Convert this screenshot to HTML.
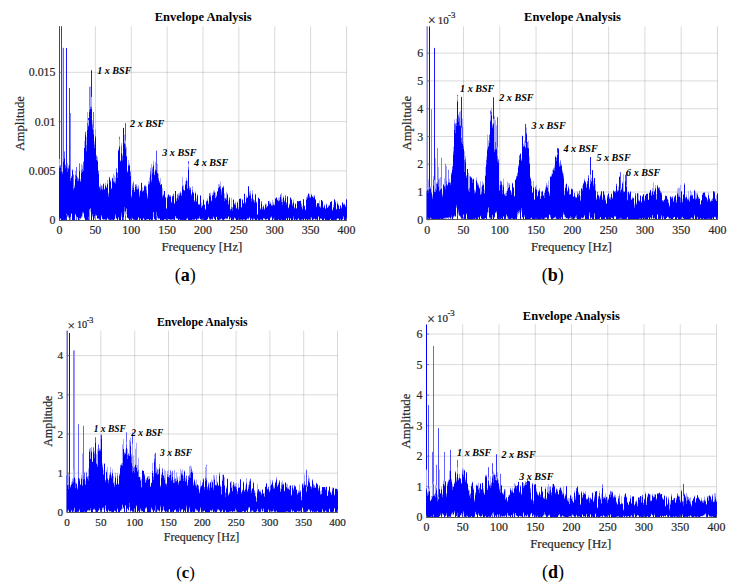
<!DOCTYPE html>
<html><head><meta charset="utf-8"><style>
html,body{margin:0;padding:0;background:#fff;}
svg{display:block;}
text{font-family:"Liberation Serif", serif;}
</style></head><body>
<svg width="737" height="588" viewBox="0 0 737 588">
<line x1="59.50" y1="26.25" x2="59.50" y2="220.20" stroke="#5a5a5a" stroke-width="0.7"/>
<line x1="95.38" y1="26.25" x2="95.38" y2="220.20" stroke="rgba(0,0,0,0.15)" stroke-width="1"/>
<line x1="131.25" y1="26.25" x2="131.25" y2="220.20" stroke="rgba(0,0,0,0.15)" stroke-width="1"/>
<line x1="167.12" y1="26.25" x2="167.12" y2="220.20" stroke="rgba(0,0,0,0.15)" stroke-width="1"/>
<line x1="203.00" y1="26.25" x2="203.00" y2="220.20" stroke="rgba(0,0,0,0.15)" stroke-width="1"/>
<line x1="238.88" y1="26.25" x2="238.88" y2="220.20" stroke="rgba(0,0,0,0.15)" stroke-width="1"/>
<line x1="274.75" y1="26.25" x2="274.75" y2="220.20" stroke="rgba(0,0,0,0.15)" stroke-width="1"/>
<line x1="310.62" y1="26.25" x2="310.62" y2="220.20" stroke="rgba(0,0,0,0.15)" stroke-width="1"/>
<line x1="346.50" y1="26.25" x2="346.50" y2="220.20" stroke="rgba(0,0,0,0.15)" stroke-width="1"/>
<line x1="59.50" y1="170.90" x2="346.50" y2="170.90" stroke="rgba(0,0,0,0.15)" stroke-width="1"/>
<line x1="59.50" y1="121.60" x2="346.50" y2="121.60" stroke="rgba(0,0,0,0.15)" stroke-width="1"/>
<line x1="59.50" y1="72.30" x2="346.50" y2="72.30" stroke="rgba(0,0,0,0.15)" stroke-width="1"/>
<line x1="427.20" y1="26.25" x2="427.20" y2="219.80" stroke="#5a5a5a" stroke-width="0.7"/>
<line x1="463.49" y1="26.25" x2="463.49" y2="219.80" stroke="rgba(0,0,0,0.15)" stroke-width="1"/>
<line x1="499.77" y1="26.25" x2="499.77" y2="219.80" stroke="rgba(0,0,0,0.15)" stroke-width="1"/>
<line x1="536.06" y1="26.25" x2="536.06" y2="219.80" stroke="rgba(0,0,0,0.15)" stroke-width="1"/>
<line x1="572.35" y1="26.25" x2="572.35" y2="219.80" stroke="rgba(0,0,0,0.15)" stroke-width="1"/>
<line x1="608.64" y1="26.25" x2="608.64" y2="219.80" stroke="rgba(0,0,0,0.15)" stroke-width="1"/>
<line x1="644.92" y1="26.25" x2="644.92" y2="219.80" stroke="rgba(0,0,0,0.15)" stroke-width="1"/>
<line x1="681.21" y1="26.25" x2="681.21" y2="219.80" stroke="rgba(0,0,0,0.15)" stroke-width="1"/>
<line x1="717.50" y1="26.25" x2="717.50" y2="219.80" stroke="rgba(0,0,0,0.15)" stroke-width="1"/>
<line x1="427.20" y1="192.03" x2="717.50" y2="192.03" stroke="rgba(0,0,0,0.15)" stroke-width="1"/>
<line x1="427.20" y1="164.26" x2="717.50" y2="164.26" stroke="rgba(0,0,0,0.15)" stroke-width="1"/>
<line x1="427.20" y1="136.49" x2="717.50" y2="136.49" stroke="rgba(0,0,0,0.15)" stroke-width="1"/>
<line x1="427.20" y1="108.72" x2="717.50" y2="108.72" stroke="rgba(0,0,0,0.15)" stroke-width="1"/>
<line x1="427.20" y1="80.95" x2="717.50" y2="80.95" stroke="rgba(0,0,0,0.15)" stroke-width="1"/>
<line x1="427.20" y1="53.18" x2="717.50" y2="53.18" stroke="rgba(0,0,0,0.15)" stroke-width="1"/>
<line x1="67.10" y1="330.60" x2="67.10" y2="512.40" stroke="#5a5a5a" stroke-width="0.7"/>
<line x1="100.90" y1="330.60" x2="100.90" y2="512.40" stroke="rgba(0,0,0,0.15)" stroke-width="1"/>
<line x1="134.70" y1="330.60" x2="134.70" y2="512.40" stroke="rgba(0,0,0,0.15)" stroke-width="1"/>
<line x1="168.50" y1="330.60" x2="168.50" y2="512.40" stroke="rgba(0,0,0,0.15)" stroke-width="1"/>
<line x1="202.30" y1="330.60" x2="202.30" y2="512.40" stroke="rgba(0,0,0,0.15)" stroke-width="1"/>
<line x1="236.10" y1="330.60" x2="236.10" y2="512.40" stroke="rgba(0,0,0,0.15)" stroke-width="1"/>
<line x1="269.90" y1="330.60" x2="269.90" y2="512.40" stroke="rgba(0,0,0,0.15)" stroke-width="1"/>
<line x1="303.70" y1="330.60" x2="303.70" y2="512.40" stroke="rgba(0,0,0,0.15)" stroke-width="1"/>
<line x1="337.50" y1="330.60" x2="337.50" y2="512.40" stroke="rgba(0,0,0,0.15)" stroke-width="1"/>
<line x1="67.10" y1="473.20" x2="337.50" y2="473.20" stroke="rgba(0,0,0,0.15)" stroke-width="1"/>
<line x1="67.10" y1="434.00" x2="337.50" y2="434.00" stroke="rgba(0,0,0,0.15)" stroke-width="1"/>
<line x1="67.10" y1="394.80" x2="337.50" y2="394.80" stroke="rgba(0,0,0,0.15)" stroke-width="1"/>
<line x1="67.10" y1="355.60" x2="337.50" y2="355.60" stroke="rgba(0,0,0,0.15)" stroke-width="1"/>
<line x1="426.50" y1="324.40" x2="426.50" y2="517.25" stroke="#5a5a5a" stroke-width="0.7"/>
<line x1="462.75" y1="324.40" x2="462.75" y2="517.25" stroke="rgba(0,0,0,0.15)" stroke-width="1"/>
<line x1="499.00" y1="324.40" x2="499.00" y2="517.25" stroke="rgba(0,0,0,0.15)" stroke-width="1"/>
<line x1="535.25" y1="324.40" x2="535.25" y2="517.25" stroke="rgba(0,0,0,0.15)" stroke-width="1"/>
<line x1="571.50" y1="324.40" x2="571.50" y2="517.25" stroke="rgba(0,0,0,0.15)" stroke-width="1"/>
<line x1="607.75" y1="324.40" x2="607.75" y2="517.25" stroke="rgba(0,0,0,0.15)" stroke-width="1"/>
<line x1="644.00" y1="324.40" x2="644.00" y2="517.25" stroke="rgba(0,0,0,0.15)" stroke-width="1"/>
<line x1="680.25" y1="324.40" x2="680.25" y2="517.25" stroke="rgba(0,0,0,0.15)" stroke-width="1"/>
<line x1="716.50" y1="324.40" x2="716.50" y2="517.25" stroke="rgba(0,0,0,0.15)" stroke-width="1"/>
<line x1="426.50" y1="486.72" x2="716.50" y2="486.72" stroke="rgba(0,0,0,0.15)" stroke-width="1"/>
<line x1="426.50" y1="456.19" x2="716.50" y2="456.19" stroke="rgba(0,0,0,0.15)" stroke-width="1"/>
<line x1="426.50" y1="425.66" x2="716.50" y2="425.66" stroke="rgba(0,0,0,0.15)" stroke-width="1"/>
<line x1="426.50" y1="395.13" x2="716.50" y2="395.13" stroke="rgba(0,0,0,0.15)" stroke-width="1"/>
<line x1="426.50" y1="364.60" x2="716.50" y2="364.60" stroke="rgba(0,0,0,0.15)" stroke-width="1"/>
<line x1="426.50" y1="334.07" x2="716.50" y2="334.07" stroke="rgba(0,0,0,0.15)" stroke-width="1"/>
<clipPath id="clipa"><rect x="59.00" y="26.25" width="288.00" height="193.95"/></clipPath>
<g clip-path="url(#clipa)">
<line x1="59.5" y1="220.2" x2="59.5" y2="26.0" stroke="#3333ff" stroke-width="1"/>
<line x1="61.5" y1="220.2" x2="61.5" y2="26.0" stroke="#3333ff" stroke-width="1"/>
<line x1="62.5" y1="220.2" x2="62.5" y2="48.0" stroke="#ccccff" stroke-width="1"/>
<line x1="63.5" y1="220.2" x2="63.5" y2="47.8" stroke="#6666ff" stroke-width="1"/>
<line x1="66.5" y1="220.2" x2="66.5" y2="48.0" stroke="#1919ff" stroke-width="1"/>
<line x1="64.5" y1="220.2" x2="64.5" y2="151.4" stroke="#6666ff" stroke-width="1"/>
<line x1="70.5" y1="220.2" x2="70.5" y2="155.6" stroke="#6666ff" stroke-width="1"/>
<line x1="73.5" y1="220.2" x2="73.5" y2="174.6" stroke="#6666ff" stroke-width="1"/>
<line x1="76.5" y1="220.2" x2="76.5" y2="167.0" stroke="#6666ff" stroke-width="1"/>
<line x1="79.5" y1="220.2" x2="79.5" y2="163.3" stroke="#6666ff" stroke-width="1"/>
<line x1="69.5" y1="220.2" x2="69.5" y2="88.0" stroke="#3333ff" stroke-width="1"/>
<line x1="70.5" y1="220.2" x2="70.5" y2="113.0" stroke="#8080ff" stroke-width="1"/>
<line x1="89.5" y1="220.2" x2="89.5" y2="87.0" stroke="#8080ff" stroke-width="1"/>
<line x1="91.5" y1="220.2" x2="91.5" y2="70.2" stroke="#1919ff" stroke-width="1"/>
<line x1="93.5" y1="220.2" x2="93.5" y2="112.0" stroke="#6666ff" stroke-width="1"/>
<line x1="88.5" y1="220.2" x2="88.5" y2="118.0" stroke="#1919ff" stroke-width="1"/>
<line x1="125.5" y1="220.2" x2="125.5" y2="123.0" stroke="#4d4dff" stroke-width="1"/>
<line x1="119.5" y1="220.2" x2="119.5" y2="136.7" stroke="#6666ff" stroke-width="1"/>
<line x1="123.5" y1="220.2" x2="123.5" y2="135.7" stroke="#4d4dff" stroke-width="1"/>
<line x1="156.5" y1="220.2" x2="156.5" y2="150.7" stroke="#4d4dff" stroke-width="1"/>
<line x1="188.5" y1="220.2" x2="188.5" y2="161.3" stroke="#3333ff" stroke-width="1"/>
<path d="M59.5 166.1V159.0M60.5 219.1V218.9M60.5 165.4V164.9M61.5 220.2V220.2M61.5 167.5V166.9M62.5 172.0V171.3M63.5 220.0V219.9M64.5 220.2V220.1M65.5 220.0V219.9M65.5 165.1V164.3M66.5 215.1V214.2M66.5 165.7V165.4M67.5 217.0V216.1M67.5 167.8V163.1M68.5 217.9V216.9M68.5 167.5V165.2M69.5 219.2V219.0M69.5 164.6V164.5M70.5 217.6V217.2M70.5 178.3V176.4M71.5 214.0V213.7M71.5 176.3V176.1M73.5 220.2V220.2M73.5 187.8V186.8M74.5 220.2V220.1M74.5 186.8V185.1M75.5 215.2V214.6M75.5 174.9V171.0M76.5 218.1V217.3M76.5 173.7V173.2M77.5 218.6V217.2M77.5 177.5V176.7M78.5 178.7V178.4M79.5 219.1V218.2M80.5 219.2V218.8M80.5 180.9V179.0M81.5 218.0V217.2M81.5 170.2V164.0M82.5 216.7V213.9M82.5 168.6V165.3M83.5 214.0V212.9M83.5 161.9V161.5M84.5 218.7V217.8M84.5 147.8V140.9M85.5 132.0V131.5M86.5 145.2V136.8M87.5 220.0V220.0M87.5 122.6V111.9M88.5 218.3V218.0M88.5 125.7V119.9M89.5 211.5V210.2M89.5 109.5V107.7M90.5 212.0V208.6M90.5 106.8V86.1M91.5 106.8V96.9M92.5 216.9V215.8M92.5 124.4V120.4M93.5 130.0V127.9M94.5 218.5V218.4M94.5 144.3V141.2M95.5 218.1V216.5M95.5 135.8V129.2M96.5 216.1V215.5M96.5 155.5V155.4M97.5 218.9V218.8M97.5 160.4V156.8M98.5 219.4V218.8M98.5 170.7V170.4M99.5 219.7V219.7M99.5 186.6V185.8M100.5 186.7V183.6M101.5 216.9V216.3M101.5 185.6V185.4M102.5 219.2V218.9M102.5 188.6V185.7M103.5 219.8V219.6M103.5 183.9V183.0M104.5 219.7V219.4M104.5 189.3V188.7M105.5 220.0V219.9M105.5 184.8V182.6M106.5 219.9V219.9M106.5 187.4V186.7M107.5 219.1V218.0M107.5 183.3V179.9M108.5 219.5V219.5M108.5 194.0V192.5M109.5 219.8V219.8M110.5 220.2V220.2M110.5 180.6V179.8M111.5 219.9V219.9M111.5 188.5V187.5M112.5 220.0V219.9M112.5 178.0V177.4M113.5 180.5V173.8M114.5 219.6V219.5M114.5 181.6V175.5M115.5 217.6V215.7M115.5 181.2V177.5M116.5 218.8V218.8M117.5 172.9V172.7M118.5 218.8V217.7M118.5 150.1V149.0M119.5 220.1V219.9M119.5 146.4V139.3M120.5 161.2V160.1M121.5 217.3V215.6M121.5 145.6V142.9M122.5 220.1V220.1M122.5 156.0V154.1M123.5 218.4V217.5M124.5 214.5V211.4M124.5 142.9V134.8M125.5 215.6V211.6M125.5 144.7V140.5M126.5 214.2V209.3M126.5 155.9V147.0M127.5 218.0V217.9M127.5 171.3V170.8M128.5 218.9V218.8M128.5 164.5V160.1M129.5 220.1V220.1M129.5 165.0V163.2M130.5 219.7V219.7M130.5 171.8V171.0M131.5 220.2V220.2M131.5 196.0V195.2M132.5 219.4V219.0M132.5 185.9V183.5M133.5 219.9V219.9M133.5 182.6V180.9M134.5 219.9V219.8M134.5 191.7V190.0M135.5 184.8V184.0M136.5 220.2V220.2M136.5 185.7V184.0M137.5 220.0V219.9M137.5 189.0V186.6M138.5 217.7V217.6M138.5 187.4V185.1M139.5 220.1V220.0M139.5 195.1V192.3M140.5 219.0V219.0M140.5 190.4V190.2M142.5 191.1V187.5M143.5 218.5V218.5M143.5 190.5V190.2M144.5 219.9V219.8M144.5 185.7V185.1M145.5 186.1V184.7M146.5 219.8V219.7M146.5 189.4V186.2M147.5 219.5V219.5M147.5 196.9V194.7M148.5 219.5V219.3M148.5 183.5V181.1M149.5 181.8V177.5M150.5 219.6V219.5M150.5 171.1V167.7M151.5 179.7V163.9M152.5 219.9V219.8M152.5 168.6V167.2M153.5 216.9V212.5M153.5 164.4V160.8M154.5 219.4V219.2M154.5 174.5V172.1M155.5 220.1V220.1M155.5 169.4V162.1M156.5 215.7V214.6M156.5 166.9V166.8M157.5 218.3V217.8M157.5 173.0V163.8M158.5 219.4V218.9M158.5 177.9V173.6M159.5 219.1V218.8M159.5 181.4V181.0M160.5 220.1V220.1M160.5 184.7V178.1M161.5 220.0V219.9M162.5 195.3V188.0M163.5 220.1V220.1M163.5 194.8V193.6M164.5 219.8V219.3M165.5 219.4V219.4M165.5 197.0V196.7M166.5 208.5V207.8M167.5 196.9V195.5M168.5 219.5V219.2M169.5 219.8V219.6M169.5 195.7V195.4M170.5 219.8V219.7M170.5 196.1V195.0M171.5 219.9V219.8M171.5 202.4V201.5M172.5 219.7V219.5M172.5 195.7V195.6M173.5 219.7V219.6M173.5 194.0V193.8M174.5 203.2V202.7M175.5 217.7V216.3M176.5 218.5V218.5M176.5 200.4V198.3M177.5 218.8V218.8M177.5 194.6V193.7M178.5 195.6V193.3M179.5 219.6V219.5M179.5 194.5V192.8M180.5 191.8V191.1M181.5 220.0V220.0M181.5 194.6V192.9M182.5 220.0V220.0M182.5 185.6V176.9M183.5 220.0V219.9M183.5 189.3V184.9M184.5 220.2V220.1M184.5 190.5V190.4M185.5 183.7V181.1M186.5 219.7V219.6M186.5 180.1V177.6M187.5 219.1V218.7M187.5 187.9V180.5M188.5 220.1V220.0M188.5 167.4V163.4M189.5 187.7V186.2M190.5 187.6V187.3M191.5 193.8V193.8M192.5 219.9V219.7M192.5 189.6V186.1M193.5 219.8V219.8M193.5 192.8V191.8M194.5 219.9V219.8M194.5 200.5V200.2M195.5 219.1V218.9M195.5 192.8V191.4M196.5 200.8V198.3M197.5 219.5V218.8M197.5 195.1V194.0M198.5 219.6V219.1M198.5 203.9V203.8M199.5 218.5V218.0M199.5 204.5V203.7M200.5 219.4V219.3M201.5 219.9V219.9M201.5 206.5V202.6M202.5 219.8V219.8M202.5 205.5V205.1M203.5 220.1V220.1M203.5 199.7V199.1M204.5 204.7V204.4M205.5 209.3V208.5M206.5 220.1V220.1M206.5 201.4V200.5M207.5 219.5V219.0M207.5 200.1V198.2M208.5 218.1V217.2M208.5 203.7V201.9M209.5 219.7V219.4M209.5 193.2V193.0M210.5 219.7V219.7M210.5 195.0V192.6M211.5 219.4V219.1M211.5 201.1V199.7M212.5 219.6V219.6M212.5 194.9V193.1M213.5 218.1V217.1M213.5 192.2V190.6M214.5 219.2V218.9M214.5 192.3V190.2M215.5 220.1V220.1M215.5 197.7V192.5M216.5 217.2V217.1M216.5 196.4V194.6M217.5 219.7V219.7M217.5 191.1V190.8M218.5 187.7V184.1M219.5 219.8V219.7M219.5 186.1V184.1M220.5 219.7V219.3M220.5 186.2V181.4M221.5 219.3V218.5M221.5 191.3V189.4M222.5 219.9V219.8M222.5 187.3V187.0M223.5 186.3V185.5M224.5 219.4V219.3M224.5 197.6V193.4M225.5 219.1V218.4M225.5 198.6V197.6M226.5 219.3V219.1M226.5 198.1V191.6M227.5 219.0V218.6M227.5 194.5V193.1M228.5 217.0V216.8M228.5 203.6V200.9M229.5 219.7V219.6M229.5 197.5V197.4M230.5 218.6V218.2M230.5 209.1V209.0M231.5 220.1V220.0M231.5 206.9V197.8M232.5 219.7V219.7M232.5 207.5V207.0M233.5 219.9V219.9M234.5 218.5V217.8M234.5 204.2V203.0M235.5 219.3V218.8M235.5 203.2V201.6M236.5 207.9V207.6M237.5 220.2V220.2M237.5 202.2V201.4M238.5 219.6V219.6M238.5 208.5V206.6M240.5 220.0V219.8M240.5 198.4V198.4M241.5 219.8V219.8M241.5 206.8V206.8M242.5 199.4V199.1M243.5 219.5V219.5M243.5 203.2V203.1M244.5 219.9V219.7M245.5 202.2V202.0M246.5 219.8V219.7M246.5 197.3V195.5M247.5 219.0V218.7M247.5 197.7V196.8M248.5 219.3V219.3M249.5 217.6V217.6M249.5 194.4V191.6M250.5 220.2V220.2M250.5 193.3V190.6M251.5 219.1V218.7M251.5 199.0V197.9M252.5 220.1V220.1M252.5 193.3V190.2M253.5 219.5V219.3M253.5 199.4V198.7M254.5 219.6V218.8M254.5 202.1V199.9M255.5 220.2V220.2M255.5 194.0V193.6M256.5 220.1V220.1M256.5 201.7V201.6M257.5 219.6V218.9M260.5 219.7V219.6M260.5 208.5V208.4M261.5 219.7V219.6M261.5 201.3V201.2M262.5 220.1V220.1M262.5 208.6V207.0M263.5 219.3V218.3M263.5 206.0V205.0M264.5 218.9V218.8M264.5 208.7V208.5M265.5 219.9V219.7M265.5 204.4V203.4M266.5 219.6V219.5M266.5 206.7V204.0M267.5 219.0V218.9M267.5 206.1V206.0M269.5 203.6V200.6M270.5 218.5V218.2M270.5 202.8V201.7M271.5 217.8V217.3M271.5 205.1V204.3M272.5 220.2V220.2M272.5 204.6V199.8M273.5 219.2V219.1M273.5 203.8V201.8M274.5 205.1V203.5M276.5 220.1V220.0M277.5 200.1V199.4M278.5 219.8V219.4M278.5 201.2V197.5M279.5 220.2V220.1M279.5 200.0V197.5M280.5 220.1V220.0M280.5 194.9V194.1M281.5 219.8V219.8M281.5 199.3V192.9M282.5 220.0V220.0M282.5 202.0V198.7M283.5 196.8V195.7M284.5 220.0V220.0M284.5 200.7V200.5M285.5 220.1V220.1M285.5 195.3V194.9M286.5 218.9V218.6M286.5 202.7V202.2M288.5 218.6V217.9M288.5 208.0V206.9M289.5 204.4V203.2M290.5 218.9V218.8M291.5 199.3V198.7M292.5 204.3V203.3M293.5 218.8V218.6M293.5 201.6V199.6M294.5 220.1V220.1M294.5 208.1V206.9M295.5 219.5V219.5M295.5 203.8V203.1M296.5 220.2V220.2M296.5 208.3V207.9M297.5 219.7V219.7M298.5 219.2V218.7M299.5 220.0V219.9M300.5 220.1V220.1M301.5 220.0V219.9M301.5 204.4V203.4M302.5 219.7V219.6M302.5 208.4V206.0M303.5 220.1V220.1M304.5 219.0V218.8M304.5 205.9V205.0M305.5 209.4V209.3M306.5 219.8V219.2M306.5 199.0V196.6M307.5 196.5V195.1M308.5 219.9V219.6M309.5 220.0V219.9M309.5 196.1V194.0M310.5 219.9V219.7M310.5 197.3V197.2M311.5 218.4V217.8M311.5 195.0V193.5M312.5 196.5V196.5M313.5 219.5V219.4M313.5 197.6V196.2M314.5 219.2V218.8M315.5 219.9V219.7M315.5 199.3V199.0M316.5 219.7V219.3M316.5 206.7V204.8M317.5 220.1V220.0M317.5 203.2V203.0M318.5 217.4V216.7M318.5 203.2V203.0M319.5 220.1V220.0M319.5 206.2V200.5M320.5 219.1V219.1M320.5 207.2V206.0M321.5 219.1V218.8M322.5 220.2V220.2M322.5 201.2V200.6M323.5 220.1V220.1M323.5 207.3V207.2M324.5 219.1V219.0M324.5 205.1V204.3M325.5 208.4V208.2M326.5 220.1V220.1M326.5 204.2V203.3M327.5 207.5V207.5M328.5 206.3V205.1M329.5 205.0V204.5M330.5 219.4V219.3M332.5 220.2V220.2M332.5 209.9V209.1M333.5 207.0V204.5M334.5 219.9V219.9M335.5 220.2V220.2M335.5 201.9V200.5M336.5 219.8V219.8M336.5 208.9V208.8M337.5 219.0V218.8M337.5 203.2V201.6M338.5 219.3V218.9M338.5 204.7V204.3M339.5 220.1V220.0M339.5 208.8V208.8M340.5 219.9V219.6M340.5 205.5V204.8M341.5 207.7V206.8M342.5 219.6V219.6M342.5 202.2V202.0M343.5 218.8V217.2M343.5 204.5V203.6M344.5 220.2V220.2M344.5 204.3V203.4M345.5 206.6V204.9M346.5 219.4V219.2" stroke="#aaaaff" stroke-width="1" fill="none"/>
<path d="M59.5 168.3V166.1M60.5 218.9V218.0M60.5 167.4V165.4M61.5 220.2V220.1M61.5 171.6V167.5M62.5 173.9V172.0M63.5 219.9V219.8M63.5 161.8V159.0M64.5 220.1V220.1M65.5 219.9V219.8M65.5 168.2V165.1M66.5 214.2V213.7M66.5 166.6V165.7M67.5 216.1V215.0M67.5 171.5V167.8M68.5 216.9V215.6M68.5 168.9V167.5M69.5 219.0V218.2M69.5 165.1V164.6M70.5 217.2V216.7M70.5 180.9V178.3M71.5 213.7V213.5M71.5 177.7V176.3M72.5 170.6V169.4M73.5 220.2V220.2M73.5 189.7V187.8M74.5 220.1V220.1M74.5 187.5V186.8M75.5 214.6V213.9M75.5 178.9V174.9M76.5 217.3V216.3M76.5 176.2V173.7M77.5 217.2V217.2M77.5 180.9V177.5M78.5 181.0V178.7M79.5 218.2V218.0M79.5 171.3V171.2M80.5 218.8V218.3M80.5 181.7V180.9M81.5 217.2V216.6M81.5 172.8V170.2M82.5 213.9V212.4M82.5 171.5V168.6M83.5 212.9V212.6M83.5 170.5V161.9M84.5 217.8V217.7M84.5 148.0V147.8M85.5 134.8V132.0M86.5 151.2V145.2M87.5 220.0V219.9M87.5 130.1V122.6M88.5 218.0V216.6M88.5 126.8V125.7M89.5 210.2V209.3M89.5 112.1V109.5M90.5 208.6V208.5M90.5 108.9V106.8M91.5 109.2V106.8M92.5 215.8V214.4M92.5 128.3V124.4M93.5 134.4V130.0M94.5 218.4V216.2M94.5 147.8V144.3M95.5 216.5V214.6M95.5 137.3V135.8M96.5 215.5V215.3M96.5 159.7V155.5M97.5 218.8V218.4M97.5 161.2V160.4M98.5 218.8V218.1M98.5 173.9V170.7M99.5 219.7V219.4M99.5 187.6V186.6M100.5 190.1V186.7M101.5 216.3V215.2M101.5 189.0V185.6M102.5 218.9V218.9M102.5 190.1V188.6M103.5 219.6V219.4M103.5 184.1V183.9M104.5 219.4V219.4M104.5 189.4V189.3M105.5 219.9V219.6M105.5 185.6V184.8M106.5 219.9V219.8M106.5 188.0V187.4M107.5 218.0V217.9M107.5 184.2V183.3M108.5 219.5V219.3M108.5 197.0V194.0M109.5 219.8V219.8M109.5 178.2V176.8M110.5 220.2V220.2M110.5 181.8V180.6M111.5 219.9V219.7M111.5 189.0V188.5M112.5 219.9V219.8M112.5 178.3V178.0M113.5 181.9V180.5M114.5 219.5V219.2M114.5 183.0V181.6M115.5 215.7V214.1M115.5 183.3V181.2M116.5 218.8V218.3M116.5 171.5V168.3M117.5 177.8V172.9M118.5 217.7V217.3M118.5 151.0V150.1M119.5 219.9V219.9M119.5 147.1V146.4M120.5 161.3V161.2M121.5 215.6V212.9M121.5 152.7V145.6M122.5 220.1V220.0M122.5 160.2V156.0M123.5 217.5V217.4M124.5 211.4V207.0M124.5 144.0V142.9M125.5 211.6V211.3M125.5 148.7V144.7M126.5 209.3V208.5M126.5 156.3V155.9M127.5 217.9V217.8M127.5 172.3V171.3M128.5 218.8V218.2M128.5 166.0V164.5M129.5 220.1V220.1M129.5 165.7V165.0M130.5 219.7V219.2M130.5 175.6V171.8M131.5 220.2V220.1M131.5 197.4V196.0M132.5 219.0V217.9M132.5 189.5V185.9M133.5 219.9V219.6M133.5 187.5V182.6M134.5 219.8V219.8M134.5 191.8V191.7M135.5 186.5V184.8M136.5 220.2V220.2M136.5 188.9V185.7M137.5 219.9V219.8M137.5 189.8V189.0M138.5 217.6V217.4M138.5 188.7V187.4M139.5 220.0V219.9M139.5 197.0V195.1M140.5 219.0V218.4M140.5 190.9V190.4M142.5 191.7V191.1M143.5 218.5V218.1M143.5 190.9V190.5M144.5 219.8V219.7M144.5 186.2V185.7M145.5 186.9V186.1M146.5 219.7V219.5M146.5 192.6V189.4M147.5 219.5V219.1M147.5 198.4V196.9M148.5 219.3V219.0M148.5 184.4V183.5M149.5 184.1V181.8M150.5 219.5V219.4M150.5 174.2V171.1M151.5 182.1V179.7M152.5 219.8V219.8M152.5 173.1V168.6M153.5 212.5V212.0M153.5 165.6V164.4M154.5 219.2V219.0M154.5 175.1V174.5M155.5 220.1V220.1M155.5 170.3V169.4M156.5 214.6V211.8M156.5 170.2V166.9M157.5 217.8V216.0M157.5 173.2V173.0M158.5 218.9V218.3M158.5 179.3V177.9M159.5 218.8V218.0M159.5 182.6V181.4M160.5 220.1V220.1M160.5 185.1V184.7M161.5 219.9V219.9M162.5 197.2V195.3M163.5 220.1V220.1M163.5 195.4V194.8M164.5 219.3V219.1M165.5 219.4V219.2M165.5 197.7V197.0M166.5 208.7V208.5M167.5 198.1V196.9M168.5 219.2V219.1M169.5 219.6V219.3M169.5 196.4V195.7M170.5 219.7V219.7M170.5 196.5V196.1M171.5 219.8V219.6M171.5 202.6V202.4M172.5 219.5V219.4M172.5 197.1V195.7M173.5 219.6V219.3M173.5 195.7V194.0M174.5 203.9V203.2M175.5 216.3V216.2M176.5 218.5V218.4M176.5 201.1V200.4M177.5 218.8V218.5M177.5 197.7V194.6M178.5 199.2V195.6M179.5 219.5V219.3M179.5 195.5V194.5M180.5 193.2V191.8M181.5 220.0V219.9M181.5 195.8V194.6M182.5 220.0V220.0M182.5 186.3V185.6M183.5 219.9V219.9M183.5 189.5V189.3M184.5 220.1V220.1M184.5 190.5V190.5M185.5 184.7V183.7M186.5 219.6V218.8M186.5 180.9V180.1M187.5 218.7V217.9M187.5 188.8V187.9M188.5 220.0V220.0M188.5 170.0V167.4M189.5 189.7V187.7M190.5 189.6V187.6M191.5 196.0V193.8M192.5 219.7V219.4M192.5 191.5V189.6M193.5 219.8V219.8M193.5 193.3V192.8M194.5 219.8V219.7M194.5 201.6V200.5M195.5 218.9V218.9M195.5 193.2V192.8M196.5 201.8V200.8M197.5 218.8V218.8M197.5 195.4V195.1M198.5 219.1V218.7M198.5 204.7V203.9M199.5 218.0V216.7M199.5 204.8V204.5M200.5 219.3V219.1M201.5 219.9V219.6M201.5 207.7V206.5M202.5 219.8V219.7M202.5 205.7V205.5M203.5 220.1V219.9M203.5 200.1V199.7M204.5 204.7V204.7M205.5 209.7V209.3M206.5 220.1V220.0M206.5 201.4V201.4M207.5 219.0V219.0M207.5 200.9V200.1M208.5 217.2V216.9M208.5 204.2V203.7M209.5 219.4V218.7M209.5 195.6V193.2M210.5 219.7V219.6M210.5 196.4V195.0M211.5 219.1V218.8M211.5 201.2V201.1M212.5 219.6V219.4M212.5 195.8V194.9M213.5 217.1V216.7M213.5 194.9V192.2M214.5 218.9V218.8M214.5 192.4V192.3M215.5 220.1V220.1M215.5 198.1V197.7M216.5 217.1V216.9M216.5 196.4V196.4M217.5 219.7V219.6M217.5 191.6V191.1M218.5 188.1V187.7M219.5 219.7V219.7M219.5 186.6V186.1M220.5 219.3V219.0M220.5 188.7V186.2M221.5 218.5V218.5M221.5 194.4V191.3M222.5 219.8V219.8M222.5 187.8V187.3M223.5 187.3V186.3M224.5 219.3V219.2M224.5 200.7V197.6M225.5 218.4V218.3M225.5 198.7V198.6M226.5 219.1V218.5M226.5 199.9V198.1M227.5 218.6V218.5M227.5 194.5V194.5M228.5 216.8V216.1M228.5 204.4V203.6M229.5 219.6V219.1M229.5 199.2V197.5M230.5 218.2V217.4M230.5 210.3V209.1M231.5 220.0V220.0M231.5 208.5V206.9M232.5 219.7V219.7M232.5 210.3V207.5M233.5 219.9V219.8M234.5 217.8V217.7M234.5 204.4V204.2M235.5 218.8V218.6M235.5 204.9V203.2M236.5 208.6V207.9M237.5 220.2V220.2M237.5 202.7V202.2M238.5 219.6V219.5M238.5 209.3V208.5M240.5 219.8V219.7M240.5 198.9V198.4M241.5 219.8V219.6M241.5 207.7V206.8M242.5 200.1V199.4M243.5 219.5V219.4M243.5 203.4V203.2M244.5 219.7V219.4M245.5 203.5V202.2M246.5 219.7V219.7M246.5 198.2V197.3M247.5 218.7V218.4M247.5 197.7V197.7M248.5 219.3V218.7M249.5 217.6V216.9M249.5 195.7V194.4M250.5 220.2V220.2M250.5 195.2V193.3M251.5 218.7V218.5M251.5 201.3V199.0M252.5 220.1V220.1M252.5 195.0V193.3M253.5 219.3V218.6M253.5 200.3V199.4M254.5 218.8V218.8M254.5 202.4V202.1M255.5 220.2V220.2M255.5 195.1V194.0M256.5 220.1V220.1M256.5 203.1V201.7M257.5 218.9V218.7M260.5 219.6V219.5M260.5 209.6V208.5M261.5 219.6V219.6M261.5 203.3V201.3M262.5 220.1V220.0M262.5 209.3V208.6M263.5 218.3V218.2M263.5 206.5V206.0M264.5 218.8V218.5M264.5 209.9V208.7M265.5 219.7V219.7M265.5 204.7V204.4M266.5 219.5V219.3M266.5 208.0V206.7M267.5 218.9V218.8M267.5 206.3V206.1M269.5 204.2V203.6M270.5 218.2V217.5M270.5 203.4V202.8M271.5 217.3V216.6M271.5 205.6V205.1M272.5 220.2V220.2M272.5 205.6V204.6M273.5 219.1V218.2M273.5 205.0V203.8M274.5 205.4V205.1M275.5 198.7V198.2M276.5 220.0V220.0M277.5 200.1V200.1M278.5 219.4V219.4M278.5 201.2V201.2M279.5 220.1V220.1M279.5 200.4V200.0M280.5 220.0V220.0M280.5 196.9V194.9M281.5 219.8V219.7M281.5 201.6V199.3M282.5 220.0V220.0M282.5 204.5V202.0M283.5 198.0V196.8M284.5 220.0V219.9M284.5 202.2V200.7M285.5 220.1V220.1M285.5 197.6V195.3M286.5 218.6V218.2M286.5 204.3V202.7M287.5 197.0V196.1M288.5 217.9V217.8M288.5 208.1V208.0M289.5 204.7V204.4M290.5 218.8V218.2M291.5 199.9V199.3M292.5 205.9V204.3M293.5 218.6V216.7M293.5 202.4V201.6M294.5 220.1V220.0M294.5 208.3V208.1M295.5 219.5V219.4M295.5 204.1V203.8M296.5 220.2V220.1M296.5 208.5V208.3M297.5 219.7V219.6M298.5 218.7V218.1M298.5 201.3V201.3M299.5 219.9V219.8M300.5 220.1V220.1M301.5 219.9V219.8M301.5 206.7V204.4M302.5 219.6V219.4M302.5 209.2V208.4M303.5 220.1V220.1M304.5 218.8V218.8M304.5 206.1V205.9M305.5 210.3V209.4M306.5 219.2V219.0M306.5 199.7V199.0M307.5 197.8V196.5M308.5 219.6V219.4M309.5 219.9V219.7M309.5 197.2V196.1M310.5 219.7V219.6M310.5 197.8V197.3M311.5 217.8V217.2M311.5 195.1V195.0M312.5 196.6V196.5M313.5 219.4V219.1M313.5 198.0V197.6M314.5 218.8V218.7M314.5 197.0V195.5M315.5 219.7V219.6M315.5 199.6V199.3M316.5 219.3V219.2M316.5 207.1V206.7M317.5 220.0V220.0M317.5 203.2V203.2M318.5 216.7V216.4M318.5 203.3V203.2M319.5 220.0V219.9M319.5 206.5V206.2M320.5 219.1V218.2M320.5 207.8V207.2M321.5 218.8V218.7M322.5 220.2V220.1M322.5 201.5V201.2M323.5 220.1V220.1M323.5 208.0V207.3M324.5 219.0V218.3M324.5 205.7V205.1M325.5 209.0V208.4M326.5 220.1V220.0M326.5 204.6V204.2M327.5 207.9V207.5M328.5 206.9V206.3M329.5 205.7V205.0M330.5 219.3V218.8M332.5 220.2V220.2M332.5 210.5V209.9M333.5 207.4V207.0M334.5 219.9V219.9M335.5 220.2V220.2M335.5 202.3V201.9M336.5 219.8V219.6M336.5 210.0V208.9M337.5 218.8V218.1M337.5 203.8V203.2M338.5 218.9V218.2M338.5 205.9V204.7M339.5 220.0V219.9M339.5 208.9V208.8M340.5 219.6V219.4M340.5 205.8V205.5M341.5 208.3V207.7M342.5 219.6V219.3M342.5 202.9V202.2M343.5 217.2V216.3M343.5 204.7V204.5M344.5 220.2V220.2M344.5 204.6V204.3M345.5 206.7V206.6M346.5 219.2V219.2" stroke="#5555ff" stroke-width="1" fill="none"/>
<path d="M59.5 220.2V168.3M60.5 218.0V167.4M61.5 220.1V171.6M62.5 220.2V173.9M63.5 219.8V161.8M64.5 220.1V158.4M65.5 219.8V168.2M66.5 213.7V166.6M67.5 215.0V171.5M68.5 215.6V168.9M69.5 218.2V165.1M70.5 216.7V180.9M71.5 213.5V177.7M72.5 220.2V170.6M73.5 220.2V189.7M74.5 220.1V187.5M75.5 213.9V178.9M76.5 216.3V176.2M77.5 217.2V180.9M78.5 220.2V181.0M79.5 218.0V171.3M80.5 218.3V181.7M81.5 216.6V172.8M82.5 212.4V171.5M83.5 212.6V170.5M84.5 217.7V148.0M85.5 220.2V134.8M86.5 220.2V151.2M87.5 219.9V130.1M88.5 216.6V126.8M89.5 209.3V112.1M90.5 208.5V108.9M91.5 220.2V109.2M92.5 214.4V128.3M93.5 220.2V134.4M94.5 216.2V147.8M95.5 214.6V137.3M96.5 215.3V159.7M97.5 218.4V161.2M98.5 218.1V173.9M99.5 219.4V187.6M100.5 220.2V190.1M101.5 215.2V189.0M102.5 218.9V190.1M103.5 219.4V184.1M104.5 219.4V189.4M105.5 219.6V185.6M106.5 219.8V188.0M107.5 217.9V184.2M108.5 219.3V197.0M109.5 219.8V178.2M110.5 220.2V181.8M111.5 219.7V189.0M112.5 219.8V178.3M113.5 220.2V181.9M114.5 219.2V183.0M115.5 214.1V183.3M116.5 218.3V171.5M117.5 220.2V177.8M118.5 217.3V151.0M119.5 219.9V147.1M120.5 220.2V161.3M121.5 212.9V152.7M122.5 220.0V160.2M123.5 217.4V127.9M124.5 207.0V144.0M125.5 211.3V148.7M126.5 208.5V156.3M127.5 217.8V172.3M128.5 218.2V166.0M129.5 220.1V165.7M130.5 219.2V175.6M131.5 220.1V197.4M132.5 217.9V189.5M133.5 219.6V187.5M134.5 219.8V191.8M135.5 220.2V186.5M136.5 220.2V188.9M137.5 219.8V189.8M138.5 217.4V188.7M139.5 219.9V197.0M140.5 218.4V190.9M141.5 220.2V182.8M142.5 220.2V191.7M143.5 218.1V190.9M144.5 219.7V186.2M145.5 220.2V186.9M146.5 219.5V192.6M147.5 219.1V198.4M148.5 219.0V184.4M149.5 220.2V184.1M150.5 219.4V174.2M151.5 220.2V182.1M152.5 219.8V173.1M153.5 212.0V165.6M154.5 219.0V175.1M155.5 220.1V170.3M156.5 211.8V170.2M157.5 216.0V173.2M158.5 218.3V179.3M159.5 218.0V182.6M160.5 220.1V185.1M161.5 219.9V184.2M162.5 220.2V197.2M163.5 220.1V195.4M164.5 219.1V191.0M165.5 219.2V197.7M166.5 220.2V208.7M167.5 220.2V198.1M168.5 219.1V194.5M169.5 219.3V196.4M170.5 219.7V196.5M171.5 219.6V202.6M172.5 219.4V197.1M173.5 219.3V195.7M174.5 220.2V203.9M175.5 216.2V191.0M176.5 218.4V201.1M177.5 218.5V197.7M178.5 220.2V199.2M179.5 219.3V195.5M180.5 220.2V193.2M181.5 219.9V195.8M182.5 220.0V186.3M183.5 219.9V189.5M184.5 220.1V190.5M185.5 220.2V184.7M186.5 218.8V180.9M187.5 217.9V188.8M188.5 220.0V170.0M189.5 220.2V189.7M190.5 220.2V189.6M191.5 220.2V196.0M192.5 219.4V191.5M193.5 219.8V193.3M194.5 219.7V201.6M195.5 218.9V193.2M196.5 220.2V201.8M197.5 218.8V195.4M198.5 218.7V204.7M199.5 216.7V204.8M200.5 219.1V195.5M201.5 219.6V207.7M202.5 219.7V205.7M203.5 219.9V200.1M204.5 220.2V204.7M205.5 220.2V209.7M206.5 220.0V201.4M207.5 219.0V200.9M208.5 216.9V204.2M209.5 218.7V195.6M210.5 219.6V196.4M211.5 218.8V201.2M212.5 219.4V195.8M213.5 216.7V194.9M214.5 218.8V192.4M215.5 220.1V198.1M216.5 216.9V196.4M217.5 219.6V191.6M218.5 220.2V188.1M219.5 219.7V186.6M220.5 219.0V188.7M221.5 218.5V194.4M222.5 219.8V187.8M223.5 220.2V187.3M224.5 219.2V200.7M225.5 218.3V198.7M226.5 218.5V199.9M227.5 218.5V194.5M228.5 216.1V204.4M229.5 219.1V199.2M230.5 217.4V210.3M231.5 220.0V208.5M232.5 219.7V210.3M233.5 219.8V199.6M234.5 217.7V204.4M235.5 218.6V204.9M236.5 220.2V208.6M237.5 220.2V202.7M238.5 219.5V209.3M239.5 220.2V198.9M240.5 219.7V198.9M241.5 219.6V207.7M242.5 220.2V200.1M243.5 219.4V203.4M244.5 219.4V193.8M245.5 220.2V203.5M246.5 219.7V198.2M247.5 218.4V197.7M248.5 218.7V186.3M249.5 216.9V195.7M250.5 220.2V195.2M251.5 218.5V201.3M252.5 220.1V195.0M253.5 218.6V200.3M254.5 218.8V202.4M255.5 220.2V195.1M256.5 220.1V203.1M257.5 218.7V214.5M258.5 220.2V197.8M259.5 220.2V198.9M260.5 219.5V209.6M261.5 219.6V203.3M262.5 220.0V209.3M263.5 218.2V206.5M264.5 218.5V209.9M265.5 219.7V204.7M266.5 219.3V208.0M267.5 218.8V206.3M268.5 220.2V201.1M269.5 220.2V204.2M270.5 217.5V203.4M271.5 216.6V205.6M272.5 220.2V205.6M273.5 218.2V205.0M274.5 220.2V205.4M275.5 220.2V198.7M276.5 220.0V197.5M277.5 220.2V200.1M278.5 219.4V201.2M279.5 220.1V200.4M280.5 220.0V196.9M281.5 219.7V201.6M282.5 220.0V204.5M283.5 220.2V198.0M284.5 219.9V202.2M285.5 220.1V197.6M286.5 218.2V204.3M287.5 220.2V197.0M288.5 217.8V208.1M289.5 220.2V204.7M290.5 218.2V197.6M291.5 220.2V199.9M292.5 220.2V205.9M293.5 216.7V202.4M294.5 220.0V208.3M295.5 219.4V204.1M296.5 220.1V208.5M297.5 219.6V201.1M298.5 218.1V201.3M299.5 219.8V201.0M300.5 220.1V200.8M301.5 219.8V206.7M302.5 219.4V209.2M303.5 220.1V199.2M304.5 218.8V206.1M305.5 220.2V210.3M306.5 219.0V199.7M307.5 220.2V197.8M308.5 219.4V193.6M309.5 219.7V197.2M310.5 219.6V197.8M311.5 217.2V195.1M312.5 220.2V196.6M313.5 219.1V198.0M314.5 218.7V197.0M315.5 219.6V199.6M316.5 219.2V207.1M317.5 220.0V203.2M318.5 216.4V203.3M319.5 219.9V206.5M320.5 218.2V207.8M321.5 218.7V200.0M322.5 220.1V201.5M323.5 220.1V208.0M324.5 218.3V205.7M325.5 220.2V209.0M326.5 220.0V204.6M327.5 220.2V207.9M328.5 220.2V206.9M329.5 220.2V205.7M330.5 218.8V202.0M331.5 220.2V201.3M332.5 220.2V210.5M333.5 220.2V207.4M334.5 219.9V199.4M335.5 220.2V202.3M336.5 219.6V210.0M337.5 218.1V203.8M338.5 218.2V205.9M339.5 219.9V208.9M340.5 219.4V205.8M341.5 220.2V208.3M342.5 219.3V202.9M343.5 216.3V204.7M344.5 220.2V204.6M345.5 220.2V206.7M346.5 219.2V199.4" stroke="#0000ff" stroke-width="1" fill="none"/>
</g>
<clipPath id="clipb"><rect x="426.60" y="26.25" width="291.40" height="193.55"/></clipPath>
<g clip-path="url(#clipb)">
<line x1="426.5" y1="219.8" x2="426.5" y2="26.3" stroke="#8c8cff" stroke-width="1"/>
<line x1="427.5" y1="219.8" x2="427.5" y2="26.3" stroke="#8c8cff" stroke-width="1"/>
<line x1="429.5" y1="219.8" x2="429.5" y2="26.3" stroke="#0000ff" stroke-width="1"/>
<line x1="434.5" y1="219.8" x2="434.5" y2="47.9" stroke="#1919ff" stroke-width="1"/>
<line x1="437.5" y1="219.8" x2="437.5" y2="147.9" stroke="#8080ff" stroke-width="1"/>
<line x1="441.5" y1="219.8" x2="441.5" y2="157.8" stroke="#8080ff" stroke-width="1"/>
<line x1="445.5" y1="219.8" x2="445.5" y2="163.8" stroke="#8080ff" stroke-width="1"/>
<line x1="448.5" y1="219.8" x2="448.5" y2="169.8" stroke="#8080ff" stroke-width="1"/>
<line x1="431.5" y1="219.8" x2="431.5" y2="109.1" stroke="#8080ff" stroke-width="1"/>
<line x1="457.5" y1="219.8" x2="457.5" y2="95.0" stroke="#1919ff" stroke-width="1"/>
<line x1="461.5" y1="219.8" x2="461.5" y2="96.9" stroke="#1919ff" stroke-width="1"/>
<line x1="493.5" y1="219.8" x2="493.5" y2="97.3" stroke="#1919ff" stroke-width="1"/>
<line x1="490.5" y1="219.8" x2="490.5" y2="110.6" stroke="#6666ff" stroke-width="1"/>
<line x1="497.5" y1="219.8" x2="497.5" y2="117.0" stroke="#4d4dff" stroke-width="1"/>
<line x1="525.5" y1="219.8" x2="525.5" y2="123.9" stroke="#3333ff" stroke-width="1"/>
<line x1="557.5" y1="219.8" x2="557.5" y2="148.0" stroke="#3333ff" stroke-width="1"/>
<line x1="590.5" y1="219.8" x2="590.5" y2="157.0" stroke="#1919ff" stroke-width="1"/>
<line x1="620.5" y1="219.8" x2="620.5" y2="172.1" stroke="#4d4dff" stroke-width="1"/>
<line x1="626.5" y1="219.8" x2="626.5" y2="172.0" stroke="#4d4dff" stroke-width="1"/>
<path d="M426.5 191.0V190.8M427.5 189.6V188.3M428.5 219.3V218.8M428.5 189.2V179.5M429.5 219.6V219.5M429.5 187.4V187.1M430.5 218.5V218.5M430.5 187.4V186.6M431.5 219.2V219.1M431.5 191.9V186.8M432.5 196.5V194.4M433.5 219.6V219.4M433.5 179.4V176.1M434.5 191.7V179.9M435.5 188.6V158.4M436.5 219.4V219.2M436.5 183.5V183.3M437.5 181.8V180.0M438.5 179.3V167.1M439.5 219.4V219.3M439.5 190.3V178.5M440.5 219.0V218.8M440.5 188.8V177.0M441.5 219.6V219.5M441.5 188.3V186.0M442.5 195.1V193.4M443.5 218.8V218.6M443.5 184.6V184.3M444.5 219.1V218.4M444.5 186.2V178.3M445.5 218.2V217.9M445.5 185.6V184.0M446.5 218.3V218.1M446.5 180.9V166.1M447.5 218.0V217.9M447.5 185.1V184.0M448.5 218.5V217.7M448.5 181.5V180.9M449.5 217.8V217.6M449.5 182.3V179.0M450.5 218.9V218.8M450.5 183.0V181.7M451.5 218.4V217.3M451.5 173.0V172.5M452.5 219.3V219.3M452.5 166.4V165.8M453.5 217.5V217.4M453.5 151.3V146.6M454.5 216.5V216.4M454.5 123.6V119.4M455.5 217.1V216.6M455.5 124.2V122.9M456.5 207.8V207.5M456.5 122.9V118.7M457.5 215.2V214.9M457.5 100.8V95.6M458.5 215.4V212.8M458.5 115.8V114.1M459.5 216.1V215.9M459.5 117.5V112.0M460.5 217.7V217.2M460.5 125.2V111.0M461.5 218.5V218.2M461.5 138.2V127.5M462.5 218.9V218.6M462.5 126.7V118.5M463.5 215.1V214.9M463.5 146.0V141.5M464.5 219.4V219.0M464.5 159.9V151.2M465.5 219.8V219.8M465.5 158.6V156.1M466.5 215.0V214.5M466.5 176.0V174.8M467.5 219.3V218.9M468.5 219.4V219.2M468.5 189.0V173.0M469.5 187.4V175.6M472.5 219.5V219.1M472.5 180.0V178.6M473.5 219.2V219.0M474.5 219.3V219.1M474.5 190.5V189.0M475.5 218.9V218.6M475.5 191.5V190.3M476.5 219.6V219.6M476.5 180.0V177.4M477.5 219.7V219.5M477.5 183.1V182.5M478.5 218.1V217.2M478.5 185.2V183.7M479.5 187.8V187.4M480.5 216.9V216.0M480.5 193.7V181.3M481.5 219.0V218.9M481.5 191.5V186.9M482.5 219.7V219.6M482.5 185.0V181.1M483.5 219.7V219.7M483.5 184.2V183.1M484.5 219.2V219.1M484.5 193.1V189.5M485.5 218.3V218.3M485.5 175.1V167.0M486.5 219.0V219.0M486.5 159.7V156.5M487.5 215.3V212.9M487.5 148.3V134.6M488.5 212.5V208.2M488.5 145.7V140.7M489.5 218.2V217.7M489.5 134.9V134.4M490.5 218.8V218.8M490.5 120.5V114.1M491.5 219.4V219.3M491.5 111.9V107.7M492.5 218.1V215.1M492.5 125.9V123.8M493.5 219.7V219.7M493.5 123.2V119.0M494.5 218.1V217.2M494.5 149.1V115.9M495.5 213.3V212.9M495.5 141.8V120.3M496.5 213.6V211.9M496.5 148.0V125.4M497.5 219.0V218.6M497.5 156.6V147.2M498.5 159.4V159.0M499.5 219.3V219.2M499.5 190.0V185.0M500.5 180.9V180.7M501.5 218.8V218.4M501.5 181.5V181.3M502.5 219.5V219.1M502.5 189.8V185.3M503.5 217.0V216.6M503.5 184.4V178.5M504.5 219.8V219.8M504.5 194.0V193.5M505.5 219.3V219.1M505.5 195.2V193.0M506.5 216.7V214.7M506.5 192.8V191.3M507.5 218.5V217.7M507.5 189.4V181.7M508.5 219.2V219.1M508.5 187.5V183.2M509.5 219.6V219.6M509.5 184.6V183.2M510.5 190.2V190.1M511.5 218.7V218.6M511.5 193.2V192.1M512.5 218.8V218.6M512.5 182.9V182.7M513.5 187.1V186.9M514.5 219.4V219.2M514.5 196.1V195.8M515.5 219.1V219.0M516.5 176.2V175.7M517.5 216.8V213.9M517.5 173.2V172.3M518.5 214.9V213.4M518.5 165.8V164.8M519.5 213.3V212.2M520.5 153.8V153.2M521.5 212.5V210.0M521.5 160.1V158.7M522.5 218.0V217.5M523.5 219.8V219.8M523.5 146.2V143.8M524.5 217.2V216.8M524.5 145.3V140.7M525.5 147.5V142.9M526.5 219.7V219.6M526.5 132.7V127.5M527.5 142.0V141.9M528.5 219.7V219.7M528.5 147.9V140.8M529.5 162.7V156.3M530.5 219.2V218.7M530.5 178.0V176.6M531.5 218.3V217.7M531.5 185.5V181.0M532.5 219.3V219.2M532.5 192.7V192.1M533.5 187.0V180.8M534.5 219.6V219.5M534.5 199.5V199.1M535.5 219.2V219.1M535.5 186.8V186.5M536.5 189.0V184.8M537.5 219.4V218.9M537.5 195.9V195.3M538.5 219.3V219.2M538.5 190.9V190.3M539.5 219.6V219.6M539.5 189.4V188.0M540.5 219.5V219.4M540.5 198.8V196.4M541.5 219.3V219.0M541.5 191.8V191.1M542.5 190.8V190.7M543.5 219.3V219.2M543.5 195.4V195.0M544.5 219.0V218.9M544.5 192.9V192.6M545.5 218.2V218.2M545.5 189.0V186.8M546.5 217.9V217.7M546.5 184.9V182.7M547.5 219.2V219.1M547.5 187.2V185.2M548.5 219.0V218.7M548.5 191.1V180.7M549.5 215.1V215.0M549.5 194.3V193.1M550.5 217.9V217.4M551.5 219.3V219.2M551.5 176.0V173.6M552.5 173.9V169.6M553.5 218.5V218.3M553.5 169.5V167.7M554.5 218.4V217.9M554.5 167.7V165.6M555.5 218.6V217.5M555.5 156.5V155.5M556.5 219.0V218.8M556.5 157.7V157.3M557.5 219.6V219.6M557.5 154.3V152.8M558.5 219.3V219.1M559.5 219.3V219.0M559.5 165.3V162.8M560.5 161.3V159.8M561.5 218.7V217.4M561.5 165.0V164.0M562.5 171.7V170.1M563.5 215.0V214.0M563.5 175.5V173.4M564.5 217.0V215.0M564.5 194.5V190.7M565.5 218.4V217.0M565.5 187.6V184.9M566.5 218.5V218.4M567.5 218.9V218.4M567.5 191.0V190.0M568.5 219.5V219.4M568.5 187.5V185.7M569.5 218.6V218.1M569.5 194.1V189.2M570.5 218.3V218.2M570.5 194.2V194.1M571.5 219.0V218.9M573.5 219.5V219.5M573.5 196.8V196.2M574.5 218.8V218.7M574.5 192.8V192.7M575.5 217.9V217.3M575.5 196.7V196.6M576.5 218.4V218.1M576.5 197.5V197.1M577.5 219.8V219.8M577.5 192.8V191.3M578.5 193.7V193.4M579.5 219.6V219.5M579.5 191.1V190.1M580.5 219.1V219.0M580.5 200.1V196.3M581.5 218.8V217.7M581.5 188.2V188.0M582.5 218.9V218.1M582.5 189.0V185.5M583.5 218.6V217.8M583.5 183.2V182.7M584.5 216.6V215.8M584.5 180.1V178.6M585.5 181.7V181.5M586.5 186.7V184.2M587.5 219.3V219.2M587.5 181.1V180.9M588.5 175.4V175.1M589.5 215.9V213.8M589.5 188.4V186.9M590.5 219.2V218.9M590.5 180.0V174.6M591.5 217.9V217.9M591.5 180.8V177.7M592.5 219.3V219.3M593.5 184.2V180.4M594.5 217.1V214.3M595.5 219.4V219.1M595.5 189.6V184.2M596.5 199.1V197.5M597.5 191.9V191.7M598.5 194.9V194.9M599.5 219.1V218.9M599.5 197.5V196.5M600.5 217.6V217.0M600.5 194.9V193.5M602.5 219.8V219.8M602.5 199.6V197.2M603.5 219.5V219.4M604.5 219.6V219.6M604.5 195.0V193.4M605.5 217.6V217.6M605.5 199.9V198.4M606.5 219.7V219.6M606.5 203.3V203.3M607.5 219.7V219.7M607.5 195.4V194.9M608.5 219.5V219.4M609.5 198.4V196.5M610.5 219.6V219.6M610.5 197.8V196.8M611.5 218.3V218.1M611.5 193.6V193.3M612.5 218.8V218.1M612.5 198.1V196.9M613.5 219.6V219.5M614.5 217.5V216.6M614.5 191.4V191.3M615.5 216.9V216.9M615.5 191.1V190.8M616.5 219.4V219.2M616.5 184.0V183.5M617.5 190.5V189.9M618.5 189.6V186.4M619.5 219.3V218.9M619.5 176.9V176.2M620.5 217.5V217.4M620.5 190.4V188.7M621.5 219.1V218.6M621.5 189.1V187.7M622.5 182.6V181.5M623.5 190.8V174.3M624.5 219.4V219.1M624.5 191.6V191.2M625.5 219.6V219.6M626.5 218.6V218.5M626.5 186.5V185.5M627.5 218.2V217.1M627.5 199.5V192.0M628.5 192.2V190.7M629.5 219.5V219.5M629.5 193.4V192.9M630.5 219.8V219.8M631.5 219.4V219.2M631.5 199.5V198.8M632.5 219.5V219.4M632.5 197.5V196.7M633.5 219.7V219.6M633.5 198.0V197.9M634.5 219.5V219.4M634.5 205.5V203.7M635.5 219.8V219.8M636.5 219.6V219.5M636.5 203.9V202.2M637.5 219.6V219.3M638.5 199.3V193.4M639.5 219.1V219.0M639.5 201.0V200.4M640.5 219.0V218.8M640.5 195.4V195.4M641.5 219.4V219.4M641.5 201.5V200.9M642.5 218.7V218.5M642.5 196.1V195.6M644.5 219.1V218.6M644.5 200.4V198.9M645.5 195.4V194.7M646.5 219.4V219.3M647.5 193.5V193.5M648.5 218.3V217.7M648.5 200.0V199.2M649.5 219.8V219.7M649.5 192.7V192.6M650.5 218.3V217.9M651.5 219.3V219.3M651.5 195.0V193.0M652.5 218.1V215.3M652.5 190.8V187.9M653.5 219.1V218.8M653.5 194.4V182.5M654.5 218.9V218.1M654.5 190.9V190.4M655.5 219.5V219.4M655.5 188.0V185.1M656.5 219.5V219.5M656.5 198.7V194.1M657.5 215.1V214.4M657.5 185.3V185.0M658.5 219.4V219.3M658.5 188.0V187.3M659.5 219.4V219.1M659.5 187.5V187.2M660.5 219.8V219.8M660.5 191.2V190.7M661.5 217.5V216.5M661.5 192.8V192.0M662.5 219.5V219.2M662.5 200.1V200.1M663.5 218.3V217.6M663.5 200.8V200.1M664.5 219.2V219.2M664.5 199.6V198.8M666.5 218.2V218.0M667.5 217.1V216.8M667.5 199.2V198.5M668.5 218.6V217.3M668.5 202.7V200.1M669.5 219.1V219.0M669.5 205.7V204.9M670.5 218.9V218.9M670.5 196.5V195.8M671.5 219.6V219.6M671.5 197.5V196.9M672.5 196.4V196.1M673.5 218.4V218.0M673.5 201.7V199.6M674.5 217.0V217.0M674.5 197.0V196.3M675.5 219.8V219.8M675.5 195.3V194.8M676.5 201.6V199.8M677.5 218.0V217.8M677.5 192.7V188.7M678.5 194.4V187.8M679.5 195.9V187.7M680.5 219.5V219.4M680.5 197.6V184.9M681.5 219.2V218.4M681.5 191.0V190.7M682.5 218.7V217.0M682.5 201.6V198.9M683.5 219.1V218.5M683.5 194.2V193.8M684.5 219.5V219.4M685.5 197.6V197.3M686.5 219.7V219.7M686.5 196.7V194.5M687.5 198.9V198.4M688.5 198.7V191.0M689.5 219.7V219.7M689.5 200.8V197.4M690.5 218.9V218.8M690.5 194.9V190.0M691.5 218.2V217.7M691.5 195.0V192.1M692.5 218.7V218.5M692.5 194.9V194.6M693.5 219.4V219.4M693.5 198.8V198.4M694.5 216.7V215.7M694.5 190.2V189.6M695.5 219.6V219.6M695.5 198.2V191.7M696.5 197.6V193.1M697.5 218.8V217.3M697.5 194.5V192.9M698.5 219.3V219.2M698.5 197.0V196.7M699.5 219.6V219.5M699.5 198.6V198.2M700.5 218.8V218.2M700.5 204.0V204.0M701.5 219.2V219.0M701.5 200.1V199.9M702.5 219.5V219.2M702.5 194.5V193.3M703.5 219.2V218.5M704.5 219.5V219.4M705.5 219.6V219.5M705.5 196.5V195.2M706.5 197.4V197.1M707.5 218.9V218.8M707.5 199.9V199.3M708.5 219.0V218.9M708.5 195.0V192.3M709.5 219.0V218.7M709.5 198.4V197.9M710.5 201.6V200.6M711.5 219.8V219.8M711.5 200.3V199.5M712.5 218.5V218.5M712.5 198.7V198.2M713.5 219.6V219.6M714.5 217.5V217.2M714.5 191.8V191.3M715.5 218.2V217.3M715.5 199.2V198.4M716.5 219.5V219.5M716.5 200.8V195.2M717.5 219.1V218.9M717.5 193.2V192.7" stroke="#aaaaff" stroke-width="1" fill="none"/>
<path d="M426.5 191.3V191.0M427.5 190.2V189.6M428.5 218.8V218.7M428.5 190.6V189.2M429.5 219.5V219.5M429.5 189.0V187.4M430.5 218.5V217.7M430.5 188.7V187.4M431.5 219.1V218.3M431.5 193.3V191.9M432.5 198.5V196.5M433.5 219.4V219.4M433.5 185.3V179.4M434.5 192.5V191.7M435.5 192.0V188.6M436.5 219.2V218.9M436.5 189.5V183.5M437.5 184.0V181.8M438.5 186.3V179.3M439.5 219.3V219.3M439.5 191.2V190.3M440.5 218.8V218.7M440.5 189.8V188.8M441.5 219.5V219.4M441.5 188.7V188.3M442.5 196.4V195.1M443.5 218.6V218.5M443.5 184.7V184.6M444.5 218.4V218.2M444.5 186.4V186.2M445.5 217.9V217.1M445.5 189.2V185.6M446.5 218.1V217.8M446.5 184.2V180.9M447.5 217.9V217.8M447.5 185.9V185.1M448.5 217.7V217.0M448.5 182.8V181.5M449.5 217.6V217.0M449.5 182.5V182.3M450.5 218.8V218.3M450.5 184.4V183.0M451.5 217.3V215.8M451.5 174.4V173.0M452.5 219.3V219.3M452.5 169.5V166.4M453.5 217.4V216.5M453.5 154.4V151.3M454.5 216.4V215.4M454.5 129.7V123.6M455.5 216.6V216.1M455.5 132.7V124.2M456.5 207.5V205.3M456.5 125.8V122.9M457.5 214.9V213.4M457.5 102.1V100.8M458.5 212.8V209.9M458.5 121.3V115.8M459.5 215.9V215.1M459.5 125.3V117.5M460.5 217.2V216.5M460.5 126.2V125.2M461.5 218.2V217.6M461.5 142.5V138.2M462.5 218.6V218.6M462.5 143.8V126.7M463.5 214.9V214.1M463.5 149.0V146.0M464.5 219.0V218.9M464.5 171.7V159.9M465.5 219.8V219.8M465.5 162.1V158.6M466.5 214.5V213.0M466.5 177.6V176.0M467.5 218.9V218.8M468.5 219.2V219.2M468.5 190.7V189.0M469.5 191.6V187.4M472.5 219.1V219.0M472.5 182.5V180.0M473.5 219.0V218.7M474.5 219.1V219.0M474.5 193.2V190.5M475.5 218.6V218.2M475.5 192.4V191.5M476.5 219.6V219.5M476.5 180.9V180.0M477.5 219.5V219.5M477.5 184.6V183.1M478.5 217.2V217.1M478.5 186.2V185.2M479.5 188.9V187.8M480.5 216.0V215.8M480.5 194.7V193.7M481.5 218.9V218.3M481.5 194.0V191.5M482.5 219.6V219.6M482.5 186.0V185.0M483.5 219.7V219.6M483.5 185.0V184.2M484.5 219.1V218.5M484.5 193.4V193.1M485.5 218.3V218.1M485.5 175.7V175.1M486.5 219.0V219.0M486.5 164.3V159.7M487.5 212.9V212.0M487.5 150.2V148.3M488.5 208.2V207.5M488.5 146.7V145.7M489.5 217.7V217.1M489.5 142.8V134.9M490.5 218.8V217.3M490.5 121.7V120.5M491.5 219.3V219.3M491.5 115.3V111.9M492.5 215.1V215.1M492.5 127.5V125.9M493.5 219.7V219.6M493.5 124.6V123.2M494.5 217.2V216.9M494.5 151.6V149.1M495.5 212.9V212.6M495.5 149.4V141.8M496.5 211.9V211.6M496.5 149.3V148.0M497.5 218.6V218.6M497.5 161.7V156.6M498.5 162.4V159.4M499.5 219.2V219.0M499.5 190.5V190.0M500.5 185.1V180.9M501.5 218.4V218.4M501.5 184.1V181.5M502.5 219.1V219.0M502.5 193.8V189.8M503.5 216.6V216.4M503.5 186.5V184.4M504.5 219.8V219.8M504.5 195.1V194.0M505.5 219.1V218.8M505.5 195.9V195.2M506.5 214.7V214.6M506.5 195.9V192.8M507.5 217.7V216.3M507.5 190.7V189.4M508.5 219.1V218.6M508.5 188.1V187.5M509.5 219.6V219.5M509.5 186.4V184.6M510.5 190.4V190.2M511.5 218.6V218.3M511.5 194.9V193.2M512.5 218.6V218.5M512.5 184.0V182.9M513.5 188.0V187.1M514.5 219.2V219.0M514.5 196.4V196.1M515.5 219.0V218.8M516.5 177.7V176.2M517.5 213.9V212.2M517.5 175.7V173.2M518.5 213.4V211.2M518.5 167.2V165.8M519.5 212.2V210.0M519.5 159.6V155.3M520.5 153.8V153.8M521.5 210.0V208.4M521.5 160.7V160.1M522.5 217.5V217.3M523.5 219.8V219.8M523.5 147.0V146.2M524.5 216.8V215.3M524.5 146.2V145.3M525.5 148.5V147.5M526.5 219.6V219.5M526.5 134.2V132.7M527.5 147.3V142.0M528.5 219.7V219.7M528.5 148.3V147.9M529.5 163.8V162.7M530.5 218.7V218.6M530.5 178.7V178.0M531.5 217.7V217.6M531.5 186.0V185.5M532.5 219.2V219.0M532.5 192.8V192.7M533.5 187.5V187.0M534.5 219.5V219.4M534.5 200.0V199.5M535.5 219.1V218.9M535.5 188.6V186.8M536.5 189.9V189.0M537.5 218.9V218.9M537.5 196.7V195.9M538.5 219.2V219.0M538.5 191.8V190.9M539.5 219.6V219.5M539.5 190.4V189.4M540.5 219.4V219.4M540.5 198.9V198.8M541.5 219.0V218.2M541.5 195.6V191.8M542.5 191.7V190.8M543.5 219.2V219.1M543.5 195.9V195.4M544.5 218.9V217.9M544.5 197.7V192.9M545.5 218.2V217.0M545.5 190.1V189.0M546.5 217.7V217.0M546.5 186.8V184.9M547.5 219.1V218.9M547.5 188.0V187.2M548.5 218.7V218.6M548.5 191.6V191.1M549.5 215.0V214.6M549.5 195.9V194.3M550.5 217.4V215.7M551.5 219.2V219.0M551.5 176.4V176.0M552.5 173.9V173.9M553.5 218.3V218.0M553.5 169.7V169.5M554.5 217.9V217.5M554.5 170.6V167.7M555.5 217.5V216.7M555.5 156.9V156.5M556.5 218.8V218.7M556.5 160.6V157.7M557.5 219.6V219.6M557.5 155.2V154.3M558.5 219.1V218.9M559.5 219.0V218.7M559.5 166.5V165.3M560.5 165.3V161.3M561.5 217.4V217.2M561.5 166.2V165.0M562.5 173.1V171.7M563.5 214.0V212.7M563.5 178.1V175.5M564.5 215.0V214.8M564.5 195.2V194.5M565.5 217.0V216.9M565.5 187.7V187.6M566.5 218.4V218.2M567.5 218.4V218.0M567.5 192.0V191.0M568.5 219.4V219.4M568.5 187.5V187.5M569.5 218.1V218.1M569.5 194.7V194.1M570.5 218.2V216.1M570.5 194.3V194.2M571.5 218.9V217.7M571.5 189.2V188.5M572.5 189.3V189.3M573.5 219.5V219.3M573.5 196.9V196.8M574.5 218.7V218.5M574.5 195.2V192.8M575.5 217.3V216.0M575.5 197.5V196.7M576.5 218.1V215.7M576.5 197.8V197.5M577.5 219.8V219.8M577.5 194.6V192.8M578.5 196.3V193.7M579.5 219.5V219.5M579.5 194.8V191.1M580.5 219.0V219.0M580.5 200.7V200.1M581.5 217.7V217.6M581.5 188.6V188.2M582.5 218.1V217.9M582.5 190.5V189.0M583.5 217.8V217.4M583.5 184.1V183.2M584.5 215.8V215.1M584.5 180.8V180.1M585.5 182.3V181.7M586.5 187.8V186.7M587.5 219.2V219.2M587.5 183.3V181.1M588.5 177.9V175.4M589.5 213.8V212.3M589.5 189.4V188.4M590.5 218.9V218.1M590.5 184.3V180.0M591.5 217.9V217.6M591.5 181.8V180.8M592.5 219.3V219.0M593.5 186.1V184.2M594.5 214.3V213.4M595.5 219.1V219.0M595.5 191.0V189.6M596.5 199.7V199.1M597.5 194.5V191.9M598.5 195.8V194.9M599.5 218.9V218.7M599.5 199.2V197.5M600.5 217.0V217.0M600.5 195.5V194.9M602.5 219.8V219.8M602.5 199.7V199.6M603.5 219.4V219.4M604.5 219.6V219.6M604.5 195.2V195.0M605.5 217.6V217.1M605.5 200.3V199.9M606.5 219.6V219.6M606.5 204.0V203.3M607.5 219.7V219.6M607.5 197.3V195.4M608.5 219.4V219.3M608.5 193.6V193.3M609.5 198.7V198.4M610.5 219.6V219.6M610.5 199.6V197.8M611.5 218.1V217.4M611.5 194.1V193.6M612.5 218.1V218.0M612.5 198.8V198.1M613.5 219.5V219.3M613.5 191.2V190.3M614.5 216.6V215.9M614.5 191.9V191.4M615.5 216.9V216.4M615.5 192.7V191.1M616.5 219.2V219.0M616.5 185.4V184.0M617.5 191.9V190.5M618.5 190.5V189.6M619.5 218.9V218.7M619.5 176.9V176.9M620.5 217.4V217.3M620.5 192.3V190.4M621.5 218.6V218.6M621.5 189.5V189.1M622.5 183.5V182.6M623.5 192.2V190.8M624.5 219.1V219.0M624.5 192.0V191.6M625.5 219.6V219.5M625.5 180.7V174.7M626.5 218.5V218.4M626.5 186.9V186.5M627.5 217.1V217.0M627.5 200.2V199.5M628.5 192.2V192.2M629.5 219.5V219.3M629.5 194.6V193.4M630.5 219.8V219.8M631.5 219.2V219.0M631.5 199.9V199.5M632.5 219.4V219.4M632.5 198.9V197.5M633.5 219.6V219.6M633.5 198.1V198.0M634.5 219.4V219.2M634.5 207.5V205.5M635.5 219.8V219.8M635.5 195.4V193.3M636.5 219.5V219.5M636.5 204.3V203.9M637.5 219.3V219.3M638.5 200.5V199.3M639.5 219.0V218.0M639.5 201.4V201.0M640.5 218.8V218.7M640.5 195.9V195.4M641.5 219.4V219.3M641.5 202.7V201.5M642.5 218.5V218.2M642.5 196.7V196.1M643.5 194.3V194.3M644.5 218.6V218.3M644.5 200.9V200.4M645.5 195.6V195.4M646.5 219.3V219.3M647.5 193.9V193.5M648.5 217.7V217.5M648.5 200.0V200.0M649.5 219.7V219.7M649.5 192.7V192.7M650.5 217.9V217.3M651.5 219.3V218.6M651.5 195.7V195.0M652.5 215.3V215.2M652.5 192.0V190.8M653.5 218.8V218.6M653.5 194.6V194.4M654.5 218.1V217.7M654.5 191.7V190.9M655.5 219.4V219.2M655.5 188.4V188.0M656.5 219.5V219.1M656.5 199.7V198.7M657.5 214.4V214.2M657.5 186.2V185.3M658.5 219.3V219.2M658.5 188.3V188.0M659.5 219.1V218.9M659.5 189.9V187.5M660.5 219.8V219.7M660.5 192.6V191.2M661.5 216.5V215.4M661.5 194.3V192.8M662.5 219.2V219.0M662.5 201.1V200.1M663.5 217.6V216.5M663.5 202.0V200.8M664.5 219.2V219.2M664.5 199.9V199.6M665.5 196.2V195.5M666.5 218.0V218.0M667.5 216.8V216.7M667.5 199.3V199.2M668.5 217.3V217.0M668.5 203.0V202.7M669.5 219.0V218.3M669.5 207.1V205.7M670.5 218.9V218.1M670.5 196.7V196.5M671.5 219.6V219.5M671.5 198.6V197.5M672.5 197.5V196.4M673.5 218.0V217.1M673.5 201.8V201.7M674.5 217.0V216.9M674.5 197.2V197.0M675.5 219.8V219.8M675.5 195.5V195.3M676.5 202.7V201.6M677.5 217.8V217.5M677.5 194.1V192.7M678.5 196.6V194.4M679.5 196.9V195.9M680.5 219.4V219.3M680.5 202.2V197.6M681.5 218.4V218.4M681.5 191.7V191.0M682.5 217.0V216.9M682.5 202.2V201.6M683.5 218.5V218.1M683.5 194.7V194.2M684.5 219.4V219.2M684.5 184.7V183.4M685.5 198.2V197.6M686.5 219.7V219.6M686.5 197.0V196.7M687.5 200.2V198.9M688.5 199.9V198.7M689.5 219.7V219.6M689.5 201.4V200.8M690.5 218.8V218.7M690.5 195.8V194.9M691.5 217.7V217.5M691.5 195.4V195.0M692.5 218.5V218.0M692.5 196.0V194.9M693.5 219.4V219.3M693.5 198.8V198.8M694.5 215.7V214.8M694.5 190.7V190.2M695.5 219.6V219.5M695.5 199.3V198.2M696.5 198.5V197.6M697.5 217.3V216.9M697.5 194.7V194.5M698.5 219.2V219.1M698.5 198.8V197.0M699.5 219.5V219.4M699.5 198.9V198.6M700.5 218.2V218.1M700.5 205.1V204.0M701.5 219.0V218.9M701.5 200.4V200.1M702.5 219.2V219.2M702.5 194.7V194.5M703.5 218.5V218.4M704.5 219.4V219.4M705.5 219.5V219.4M705.5 196.5V196.5M706.5 197.8V197.4M707.5 218.8V218.8M707.5 201.3V199.9M708.5 218.9V218.8M708.5 195.1V195.0M709.5 218.7V218.7M709.5 199.2V198.4M710.5 201.8V201.6M711.5 219.8V219.8M711.5 201.0V200.3M712.5 218.5V217.7M712.5 200.5V198.7M713.5 219.6V219.4M714.5 217.2V216.9M714.5 192.4V191.8M715.5 217.3V216.9M715.5 199.3V199.2M716.5 219.5V219.4M716.5 201.0V200.8M717.5 218.9V218.8M717.5 193.7V193.2" stroke="#5555ff" stroke-width="1" fill="none"/>
<path d="M426.5 219.8V191.3M427.5 219.8V190.2M428.5 218.7V190.6M429.5 219.5V189.0M430.5 217.7V188.7M431.5 218.3V193.3M432.5 219.8V198.5M433.5 219.4V185.3M434.5 219.8V192.5M435.5 219.8V192.0M436.5 218.9V189.5M437.5 219.8V184.0M438.5 219.8V186.3M439.5 219.3V191.2M440.5 218.7V189.8M441.5 219.4V188.7M442.5 219.8V196.4M443.5 218.5V184.7M444.5 218.2V186.4M445.5 217.1V189.2M446.5 217.8V184.2M447.5 217.8V185.9M448.5 217.0V182.8M449.5 217.0V182.5M450.5 218.3V184.4M451.5 215.8V174.4M452.5 219.3V169.5M453.5 216.5V154.4M454.5 215.4V129.7M455.5 216.1V132.7M456.5 205.3V125.8M457.5 213.4V102.1M458.5 209.9V121.3M459.5 215.1V125.3M460.5 216.5V126.2M461.5 217.6V142.5M462.5 218.6V143.8M463.5 214.1V149.0M464.5 218.9V171.7M465.5 219.8V162.1M466.5 213.0V177.6M467.5 218.8V169.0M468.5 219.2V190.7M469.5 219.8V191.6M470.5 219.8V176.6M471.5 219.8V177.6M472.5 219.0V182.5M473.5 218.7V178.9M474.5 219.0V193.2M475.5 218.2V192.4M476.5 219.5V180.9M477.5 219.5V184.6M478.5 217.1V186.2M479.5 219.8V188.9M480.5 215.8V194.7M481.5 218.3V194.0M482.5 219.6V186.0M483.5 219.6V185.0M484.5 218.5V193.4M485.5 218.1V175.7M486.5 219.0V164.3M487.5 212.0V150.2M488.5 207.5V146.7M489.5 217.1V142.8M490.5 217.3V121.7M491.5 219.3V115.3M492.5 215.1V127.5M493.5 219.6V124.6M494.5 216.9V151.6M495.5 212.6V149.4M496.5 211.6V149.3M497.5 218.6V161.7M498.5 219.8V162.4M499.5 219.0V190.5M500.5 219.8V185.1M501.5 218.4V184.1M502.5 219.0V193.8M503.5 216.4V186.5M504.5 219.8V195.1M505.5 218.8V195.9M506.5 214.6V195.9M507.5 216.3V190.7M508.5 218.6V188.1M509.5 219.5V186.4M510.5 219.8V190.4M511.5 218.3V194.9M512.5 218.5V184.0M513.5 219.8V188.0M514.5 219.0V196.4M515.5 218.8V179.7M516.5 219.8V177.7M517.5 212.2V175.7M518.5 211.2V167.2M519.5 210.0V159.6M520.5 219.8V153.8M521.5 208.4V160.7M522.5 217.3V135.8M523.5 219.8V147.0M524.5 215.3V146.2M525.5 219.8V148.5M526.5 219.5V134.2M527.5 219.8V147.3M528.5 219.7V148.3M529.5 219.8V163.8M530.5 218.6V178.7M531.5 217.6V186.0M532.5 219.0V192.8M533.5 219.8V187.5M534.5 219.4V200.0M535.5 218.9V188.6M536.5 219.8V189.9M537.5 218.9V196.7M538.5 219.0V191.8M539.5 219.5V190.4M540.5 219.4V198.9M541.5 218.2V195.6M542.5 219.8V191.7M543.5 219.1V195.9M544.5 217.9V197.7M545.5 217.0V190.1M546.5 217.0V186.8M547.5 218.9V188.0M548.5 218.6V191.6M549.5 214.6V195.9M550.5 215.7V176.6M551.5 219.0V176.4M552.5 219.8V173.9M553.5 218.0V169.7M554.5 217.5V170.6M555.5 216.7V156.9M556.5 218.7V160.6M557.5 219.6V155.2M558.5 218.9V148.6M559.5 218.7V166.5M560.5 219.8V165.3M561.5 217.2V166.2M562.5 219.8V173.1M563.5 212.7V178.1M564.5 214.8V195.2M565.5 216.9V187.7M566.5 218.2V183.7M567.5 218.0V192.0M568.5 219.4V187.5M569.5 218.1V194.7M570.5 216.1V194.3M571.5 217.7V189.2M572.5 219.8V189.3M573.5 219.3V196.9M574.5 218.5V195.2M575.5 216.0V197.5M576.5 215.7V197.8M577.5 219.8V194.6M578.5 219.8V196.3M579.5 219.5V194.8M580.5 219.0V200.7M581.5 217.6V188.6M582.5 217.9V190.5M583.5 217.4V184.1M584.5 215.1V180.8M585.5 219.8V182.3M586.5 219.8V187.8M587.5 219.2V183.3M588.5 219.8V177.9M589.5 212.3V189.4M590.5 218.1V184.3M591.5 217.6V181.8M592.5 219.0V170.2M593.5 219.8V186.1M594.5 213.4V178.1M595.5 219.0V191.0M596.5 219.8V199.7M597.5 219.8V194.5M598.5 219.8V195.8M599.5 218.7V199.2M600.5 217.0V195.5M601.5 219.8V191.3M602.5 219.8V199.7M603.5 219.4V191.3M604.5 219.6V195.2M605.5 217.1V200.3M606.5 219.6V204.0M607.5 219.6V197.3M608.5 219.3V193.6M609.5 219.8V198.7M610.5 219.6V199.6M611.5 217.4V194.1M612.5 218.0V198.8M613.5 219.3V191.2M614.5 215.9V191.9M615.5 216.4V192.7M616.5 219.0V185.4M617.5 219.8V191.9M618.5 219.8V190.5M619.5 218.7V176.9M620.5 217.3V192.3M621.5 218.6V189.5M622.5 219.8V183.5M623.5 219.8V192.2M624.5 219.0V192.0M625.5 219.5V180.7M626.5 218.4V186.9M627.5 217.0V200.2M628.5 219.8V192.2M629.5 219.3V194.6M630.5 219.8V191.6M631.5 219.0V199.9M632.5 219.4V198.9M633.5 219.6V198.1M634.5 219.2V207.5M635.5 219.8V195.4M636.5 219.5V204.3M637.5 219.3V193.3M638.5 219.8V200.5M639.5 218.0V201.4M640.5 218.7V195.9M641.5 219.3V202.7M642.5 218.2V196.7M643.5 219.8V194.3M644.5 218.3V200.9M645.5 219.8V195.6M646.5 219.3V193.9M647.5 219.8V193.9M648.5 217.5V200.0M649.5 219.7V192.7M650.5 217.3V190.1M651.5 218.6V195.7M652.5 215.2V192.0M653.5 218.6V194.6M654.5 217.7V191.7M655.5 219.2V188.4M656.5 219.1V199.7M657.5 214.2V186.2M658.5 219.2V188.3M659.5 218.9V189.9M660.5 219.7V192.6M661.5 215.4V194.3M662.5 219.0V201.1M663.5 216.5V202.0M664.5 219.2V199.9M665.5 219.8V196.2M666.5 218.0V196.0M667.5 216.7V199.3M668.5 217.0V203.0M669.5 218.3V207.1M670.5 218.1V196.7M671.5 219.5V198.6M672.5 219.8V197.5M673.5 217.1V201.8M674.5 216.9V197.2M675.5 219.8V195.5M676.5 219.8V202.7M677.5 217.5V194.1M678.5 219.8V196.6M679.5 219.8V196.9M680.5 219.3V202.2M681.5 218.4V191.7M682.5 216.9V202.2M683.5 218.1V194.7M684.5 219.2V184.7M685.5 219.8V198.2M686.5 219.6V197.0M687.5 219.8V200.2M688.5 219.8V199.9M689.5 219.6V201.4M690.5 218.7V195.8M691.5 217.5V195.4M692.5 218.0V196.0M693.5 219.3V198.8M694.5 214.8V190.7M695.5 219.5V199.3M696.5 219.8V198.5M697.5 216.9V194.7M698.5 219.1V198.8M699.5 219.4V198.9M700.5 218.1V205.1M701.5 218.9V200.4M702.5 219.2V194.7M703.5 218.4V192.7M704.5 219.4V192.5M705.5 219.4V196.5M706.5 219.8V197.8M707.5 218.8V201.3M708.5 218.8V195.1M709.5 218.7V199.2M710.5 219.8V201.8M711.5 219.8V201.0M712.5 217.7V200.5M713.5 219.4V191.2M714.5 216.9V192.4M715.5 216.9V199.3M716.5 219.4V201.0M717.5 218.8V193.7" stroke="#0000ff" stroke-width="1" fill="none"/>
</g>
<clipPath id="clipc"><rect x="66.60" y="330.60" width="271.40" height="181.80"/></clipPath>
<g clip-path="url(#clipc)">
<line x1="66.5" y1="512.4" x2="66.5" y2="330.6" stroke="#8080ff" stroke-width="1"/>
<line x1="67.5" y1="512.4" x2="67.5" y2="330.6" stroke="#6666ff" stroke-width="1"/>
<line x1="69.5" y1="512.4" x2="69.5" y2="333.0" stroke="#0000ff" stroke-width="1"/>
<line x1="73.5" y1="512.4" x2="73.5" y2="350.4" stroke="#8080ff" stroke-width="1"/>
<line x1="74.5" y1="512.4" x2="74.5" y2="350.4" stroke="#9999ff" stroke-width="1"/>
<line x1="78.5" y1="512.4" x2="78.5" y2="424.2" stroke="#6666ff" stroke-width="1"/>
<line x1="83.5" y1="512.4" x2="83.5" y2="425.7" stroke="#6666ff" stroke-width="1"/>
<line x1="95.5" y1="512.4" x2="95.5" y2="437.7" stroke="#6666ff" stroke-width="1"/>
<line x1="101.5" y1="512.4" x2="101.5" y2="434.7" stroke="#3333ff" stroke-width="1"/>
<line x1="126.5" y1="512.4" x2="126.5" y2="432.2" stroke="#6666ff" stroke-width="1"/>
<line x1="132.5" y1="512.4" x2="132.5" y2="432.7" stroke="#4d4dff" stroke-width="1"/>
<line x1="155.5" y1="512.4" x2="155.5" y2="452.8" stroke="#4d4dff" stroke-width="1"/>
<line x1="206.5" y1="512.4" x2="206.5" y2="464.8" stroke="#4d4dff" stroke-width="1"/>
<line x1="306.5" y1="512.4" x2="306.5" y2="469.8" stroke="#4d4dff" stroke-width="1"/>
<path d="M66.5 512.1V512.0M66.5 475.4V474.5M67.5 511.4V511.4M67.5 484.7V483.6M68.5 510.8V510.4M68.5 484.6V474.2M69.5 512.3V512.2M69.5 474.9V474.6M70.5 486.6V485.3M71.5 511.5V510.6M71.5 484.0V481.9M72.5 481.1V478.2M73.5 511.3V510.8M73.5 479.4V469.4M74.5 508.2V507.9M74.5 477.3V476.6M75.5 482.5V479.1M76.5 512.1V512.1M76.5 483.7V482.5M77.5 512.0V512.0M77.5 488.3V486.5M78.5 511.5V511.5M78.5 477.8V477.6M79.5 510.5V510.4M79.5 478.7V478.4M80.5 484.7V484.0M81.5 512.2V512.2M81.5 477.8V474.8M82.5 484.5V453.4M83.5 512.3V512.2M83.5 475.5V474.5M84.5 511.8V511.8M84.5 473.1V471.7M85.5 512.3V512.3M85.5 484.1V480.6M86.5 472.6V471.5M87.5 511.1V510.9M87.5 477.3V476.2M88.5 511.2V510.2M88.5 475.8V468.4M89.5 511.2V510.9M89.5 450.2V448.7M90.5 510.5V510.1M90.5 458.6V447.9M91.5 450.5V447.2M92.5 461.9V461.4M93.5 509.8V509.6M93.5 447.5V446.8M94.5 510.0V509.5M94.5 453.9V450.9M95.5 510.5V510.2M96.5 463.4V453.9M97.5 465.1V449.1M98.5 510.9V510.9M98.5 444.7V444.2M99.5 509.9V509.0M99.5 450.2V448.0M100.5 511.9V511.9M100.5 449.0V434.8M101.5 512.0V511.9M102.5 509.8V508.2M102.5 465.2V463.1M103.5 509.8V508.3M103.5 474.0V470.2M104.5 512.2V512.2M105.5 508.8V506.4M105.5 480.1V479.7M106.5 511.7V511.4M106.5 472.0V470.0M107.5 477.9V467.0M108.5 510.8V509.9M108.5 480.2V479.7M109.5 511.9V511.5M109.5 475.2V474.2M110.5 511.6V511.4M110.5 471.7V467.1M111.5 512.0V511.9M111.5 476.2V475.1M112.5 472.7V469.4M113.5 512.4V512.4M113.5 483.0V476.0M114.5 511.2V511.0M114.5 484.9V481.6M115.5 511.5V511.5M115.5 476.4V472.8M116.5 484.3V483.4M117.5 509.7V509.6M117.5 475.3V473.0M118.5 484.1V483.6M119.5 474.2V474.1M120.5 510.9V510.6M120.5 465.7V464.5M121.5 510.7V509.3M121.5 464.9V463.1M122.5 509.1V505.3M122.5 463.1V444.3M123.5 508.9V508.4M123.5 448.7V439.1M124.5 452.5V452.4M125.5 506.1V505.4M125.5 452.9V449.7M126.5 444.3V442.7M127.5 508.8V508.7M127.5 454.7V448.9M128.5 511.3V510.0M128.5 453.8V452.9M129.5 507.3V507.1M129.5 455.3V439.8M130.5 511.8V511.5M130.5 441.3V437.8M131.5 511.1V510.7M131.5 456.3V453.9M132.5 511.9V511.4M132.5 466.4V443.6M133.5 512.1V511.9M133.5 467.7V455.5M134.5 509.8V508.7M134.5 467.0V466.7M135.5 464.4V448.8M136.5 506.8V506.2M136.5 467.5V442.8M137.5 470.7V464.9M138.5 511.4V511.0M138.5 469.6V457.9M139.5 512.3V512.3M139.5 477.0V476.5M140.5 510.6V509.6M140.5 479.8V477.5M141.5 511.7V511.3M141.5 486.7V478.8M142.5 511.5V511.1M144.5 474.2V474.0M145.5 508.8V508.3M145.5 482.3V479.2M146.5 509.1V507.3M146.5 479.5V478.0M147.5 512.3V512.3M148.5 512.3V512.2M148.5 479.1V475.7M149.5 512.4V512.4M149.5 478.6V476.3M150.5 512.3V512.3M150.5 486.4V485.5M151.5 509.8V508.4M151.5 483.0V482.5M152.5 510.9V510.0M152.5 470.8V462.9M153.5 476.5V473.4M154.5 511.4V510.7M154.5 458.5V454.1M155.5 509.2V508.3M155.5 469.2V468.7M156.5 471.5V467.5M157.5 511.2V510.0M157.5 469.8V468.7M158.5 510.7V510.6M158.5 473.6V469.5M159.5 511.7V511.6M159.5 467.3V464.0M160.5 509.5V507.0M160.5 485.6V485.3M161.5 474.6V474.1M162.5 511.7V511.0M162.5 468.8V467.7M163.5 510.1V507.7M163.5 475.6V475.4M164.5 511.3V510.9M164.5 477.9V469.6M165.5 483.2V470.9M166.5 511.6V511.4M166.5 483.8V483.2M167.5 474.2V470.9M168.5 512.1V512.0M168.5 476.9V469.9M169.5 509.8V509.3M169.5 475.1V475.0M170.5 512.2V511.9M170.5 471.0V469.9M171.5 512.4V512.3M171.5 479.3V472.5M172.5 512.0V511.8M172.5 471.2V470.9M173.5 482.5V480.0M174.5 510.6V510.3M174.5 478.4V469.7M175.5 510.4V509.6M175.5 478.7V478.2M176.5 511.8V511.8M176.5 480.8V472.2M177.5 511.9V511.7M177.5 478.3V476.5M178.5 512.3V512.3M178.5 482.8V482.0M179.5 510.9V510.0M179.5 480.8V476.2M180.5 512.2V512.0M180.5 479.5V468.9M181.5 510.8V510.1M181.5 472.8V471.1M182.5 509.8V509.3M182.5 473.6V469.6M183.5 478.3V475.2M184.5 511.1V510.6M184.5 470.9V470.2M185.5 481.1V477.7M186.5 509.7V507.5M186.5 475.6V475.1M187.5 512.2V512.1M187.5 485.3V482.5M188.5 512.1V511.9M188.5 476.1V475.7M189.5 510.1V508.6M189.5 475.0V466.1M190.5 512.0V512.0M190.5 472.4V465.5M191.5 468.9V466.6M192.5 512.1V512.0M192.5 472.5V470.9M193.5 512.2V512.1M193.5 484.2V482.5M194.5 480.0V478.9M195.5 510.7V509.3M195.5 484.4V482.6M196.5 511.1V510.4M196.5 486.0V479.5M197.5 511.2V511.0M197.5 484.4V484.2M198.5 512.3V512.3M198.5 485.9V485.0M199.5 511.9V511.7M199.5 492.3V490.4M200.5 510.1V508.4M200.5 486.3V480.5M201.5 486.0V485.5M202.5 511.9V511.7M202.5 482.4V482.3M203.5 511.7V511.6M203.5 479.3V478.1M204.5 510.8V510.8M204.5 486.9V486.9M205.5 512.2V512.2M205.5 477.4V467.0M206.5 478.7V465.6M207.5 512.1V512.0M207.5 487.2V486.5M208.5 483.2V482.1M209.5 488.0V483.6M210.5 510.7V510.4M210.5 482.1V481.6M211.5 511.4V511.4M211.5 486.3V479.3M212.5 511.1V510.0M212.5 481.8V480.6M213.5 512.2V512.1M213.5 487.4V475.2M214.5 512.0V511.6M214.5 478.3V475.2M215.5 484.9V484.8M216.5 485.0V475.2M217.5 510.7V510.6M217.5 482.1V481.5M218.5 510.1V509.7M218.5 485.4V485.3M219.5 511.1V510.4M219.5 473.6V472.2M220.5 485.5V484.5M221.5 512.0V511.6M221.5 493.8V486.6M222.5 510.8V509.8M222.5 479.4V474.5M223.5 512.3V512.2M224.5 484.9V477.1M225.5 511.1V510.9M225.5 492.8V492.4M226.5 488.0V486.3M227.5 512.4V512.4M228.5 494.3V494.2M229.5 511.8V511.8M229.5 492.4V491.9M230.5 511.9V511.7M230.5 482.1V481.5M231.5 511.5V511.1M231.5 487.5V481.0M232.5 491.1V485.6M233.5 511.4V511.3M234.5 511.8V511.5M234.5 486.0V483.7M235.5 510.1V509.8M235.5 485.8V483.4M236.5 511.2V510.9M236.5 487.1V482.8M237.5 512.2V512.2M237.5 491.5V491.2M238.5 487.8V483.6M239.5 512.2V512.1M239.5 487.4V486.9M240.5 512.3V512.2M241.5 512.4V512.4M241.5 492.2V492.1M242.5 511.7V511.5M242.5 490.0V489.4M243.5 511.3V511.1M243.5 482.0V481.1M244.5 512.3V512.1M244.5 490.4V490.3M245.5 512.1V512.0M245.5 488.5V485.7M246.5 511.1V511.0M246.5 482.3V478.1M247.5 512.3V512.3M247.5 490.6V489.8M248.5 509.6V508.8M248.5 487.1V484.8M249.5 508.1V507.4M249.5 481.8V480.3M250.5 512.1V511.9M250.5 478.7V478.5M251.5 511.8V511.7M251.5 490.8V489.8M252.5 511.5V510.9M252.5 488.4V488.2M253.5 512.0V512.0M253.5 482.6V481.7M254.5 490.3V490.1M255.5 512.3V512.2M255.5 496.1V492.6M256.5 512.0V511.3M256.5 501.5V497.8M257.5 511.1V509.2M257.5 490.4V484.1M258.5 512.0V511.8M258.5 489.1V489.0M259.5 512.3V512.3M259.5 491.3V491.0M260.5 511.9V511.8M260.5 491.5V490.3M261.5 510.4V509.3M261.5 493.7V493.4M262.5 511.9V511.6M262.5 489.9V488.9M263.5 510.6V509.3M263.5 493.6V493.2M264.5 512.3V512.2M264.5 495.7V492.6M265.5 486.8V486.3M266.5 483.3V483.3M267.5 488.8V488.5M268.5 510.4V510.3M268.5 487.0V486.5M269.5 491.4V490.6M270.5 511.5V511.4M270.5 485.9V479.6M271.5 511.7V511.7M271.5 484.3V483.8M272.5 511.6V511.4M272.5 481.1V479.9M273.5 511.2V510.9M273.5 487.1V485.2M274.5 512.2V512.0M274.5 487.9V485.6M275.5 512.2V512.0M275.5 482.3V481.6M276.5 511.8V511.2M276.5 478.8V476.9M277.5 512.2V512.0M277.5 486.0V485.4M278.5 512.3V512.3M278.5 483.6V482.7M280.5 491.2V488.3M281.5 484.8V482.1M282.5 483.9V480.5M283.5 484.0V483.4M284.5 491.0V490.5M285.5 512.0V511.9M286.5 512.0V511.8M286.5 487.0V483.6M287.5 511.9V511.5M287.5 487.8V484.1M288.5 488.7V487.4M289.5 489.8V485.6M290.5 512.3V512.3M291.5 510.7V510.1M291.5 495.0V494.2M292.5 512.1V511.7M293.5 511.2V510.9M293.5 489.3V488.4M294.5 512.1V512.0M295.5 512.2V512.2M295.5 486.1V485.9M296.5 489.8V489.0M297.5 511.1V510.9M297.5 493.7V492.9M298.5 511.9V511.7M298.5 491.5V490.4M299.5 511.8V511.5M299.5 491.1V484.5M300.5 511.7V511.6M300.5 490.9V489.9M301.5 500.2V496.6M302.5 508.7V507.7M302.5 484.2V483.3M303.5 511.8V511.6M303.5 486.1V483.2M304.5 512.2V512.1M304.5 481.5V474.5M305.5 484.6V484.5M306.5 512.0V511.4M306.5 491.5V486.9M307.5 511.4V511.4M307.5 485.4V484.8M308.5 509.6V509.5M308.5 479.0V475.5M309.5 510.8V510.5M309.5 482.3V478.0M310.5 486.0V485.7M311.5 511.0V510.7M311.5 487.2V486.6M312.5 480.2V478.9M313.5 512.0V511.6M313.5 484.3V483.4M314.5 512.3V512.3M314.5 485.5V485.1M315.5 512.0V511.8M315.5 487.8V486.7M316.5 512.0V512.0M316.5 483.1V482.8M317.5 511.3V511.1M317.5 484.3V484.2M318.5 489.3V488.1M319.5 512.3V512.2M319.5 485.7V485.5M320.5 493.4V491.0M321.5 512.3V512.3M321.5 493.7V490.4M322.5 511.0V509.5M322.5 486.9V486.9M323.5 512.1V512.0M325.5 511.2V510.9M325.5 489.1V486.9M326.5 511.9V511.7M326.5 486.8V486.6M327.5 496.0V495.5M328.5 512.3V512.2M328.5 490.5V490.0M329.5 509.6V508.9M330.5 512.1V511.9M330.5 491.8V491.7M331.5 512.1V512.0M331.5 494.6V492.8M332.5 488.6V487.4M333.5 512.0V511.8M334.5 509.1V508.2M334.5 494.7V493.6M335.5 488.7V488.4M336.5 512.2V512.2M337.5 511.2V510.4M337.5 489.2V489.1" stroke="#aaaaff" stroke-width="1" fill="none"/>
<path d="M66.5 512.0V512.0M66.5 475.5V475.4M67.5 511.4V511.1M67.5 484.9V484.7M68.5 510.4V509.8M68.5 488.7V484.6M69.5 512.2V512.2M69.5 476.8V474.9M70.5 487.2V486.6M71.5 510.6V510.2M71.5 484.7V484.0M72.5 483.2V481.1M73.5 510.8V510.4M73.5 482.4V479.4M74.5 507.9V507.8M74.5 477.5V477.3M75.5 487.8V482.5M76.5 512.1V512.0M76.5 484.0V483.7M77.5 512.0V511.8M77.5 489.2V488.3M78.5 511.5V511.4M78.5 478.1V477.8M79.5 510.4V509.3M79.5 480.3V478.7M80.5 484.9V484.7M81.5 512.2V512.1M81.5 478.8V477.8M82.5 485.9V484.5M83.5 512.2V512.2M83.5 479.5V475.5M84.5 511.8V511.6M84.5 478.6V473.1M85.5 512.3V512.3M85.5 484.7V484.1M86.5 476.8V472.6M87.5 510.9V510.4M87.5 478.5V477.3M88.5 510.2V509.9M88.5 480.2V475.8M89.5 510.9V510.0M89.5 451.6V450.2M90.5 510.1V508.2M90.5 458.9V458.6M91.5 452.1V450.5M92.5 462.0V461.9M93.5 509.6V509.2M93.5 451.6V447.5M94.5 509.5V508.8M94.5 458.1V453.9M95.5 510.2V509.9M95.5 442.9V437.4M96.5 463.6V463.4M97.5 466.6V465.1M98.5 510.9V510.5M98.5 451.1V444.7M99.5 509.0V508.4M99.5 450.4V450.2M100.5 511.9V511.6M100.5 450.7V449.0M101.5 511.9V511.4M101.5 438.7V438.5M102.5 508.2V507.9M102.5 468.1V465.2M103.5 508.3V507.0M103.5 474.7V474.0M104.5 512.2V512.0M105.5 506.4V505.4M105.5 481.5V480.1M106.5 511.4V510.9M106.5 472.2V472.0M107.5 479.1V477.9M108.5 509.9V509.8M108.5 483.1V480.2M109.5 511.5V511.1M109.5 478.1V475.2M110.5 511.4V511.2M110.5 473.5V471.7M111.5 511.9V511.7M111.5 477.9V476.2M112.5 473.3V472.7M113.5 512.4V512.4M113.5 483.1V483.0M114.5 511.0V510.2M114.5 486.6V484.9M115.5 511.5V511.2M115.5 477.5V476.4M116.5 485.0V484.3M117.5 509.6V508.0M117.5 478.3V475.3M118.5 484.5V484.1M119.5 475.8V474.2M120.5 510.6V510.6M120.5 467.7V465.7M121.5 509.3V509.1M121.5 465.0V464.9M122.5 505.3V504.8M122.5 465.7V463.1M123.5 508.4V507.6M123.5 449.0V448.7M124.5 455.0V452.5M125.5 505.4V505.2M125.5 453.7V452.9M126.5 448.0V444.3M127.5 508.7V508.5M127.5 458.8V454.7M128.5 510.0V510.0M128.5 455.2V453.8M129.5 507.1V503.4M129.5 455.9V455.3M130.5 511.5V511.4M130.5 445.6V441.3M131.5 510.7V510.4M131.5 462.8V456.3M132.5 511.4V511.4M132.5 472.4V466.4M133.5 511.9V511.7M133.5 470.9V467.7M134.5 508.7V508.6M134.5 472.5V467.0M135.5 465.1V464.4M136.5 506.2V505.5M136.5 467.5V467.5M137.5 471.6V470.7M138.5 511.0V510.9M138.5 476.7V469.6M139.5 512.3V512.2M139.5 477.0V477.0M140.5 509.6V508.5M140.5 480.5V479.8M141.5 511.3V510.6M141.5 487.3V486.7M142.5 511.1V511.1M144.5 475.9V474.2M145.5 508.3V508.3M145.5 482.7V482.3M146.5 507.3V507.2M146.5 480.3V479.5M147.5 512.3V512.3M147.5 477.6V476.5M148.5 512.2V512.1M148.5 479.9V479.1M149.5 512.4V512.4M149.5 478.7V478.6M150.5 512.3V512.3M150.5 486.9V486.4M151.5 508.4V507.7M151.5 483.0V483.0M152.5 510.0V509.7M152.5 472.7V470.8M153.5 480.0V476.5M154.5 510.7V510.4M154.5 461.6V458.5M155.5 508.3V505.4M155.5 473.1V469.2M156.5 473.3V471.5M157.5 510.0V509.0M157.5 474.9V469.8M158.5 510.6V510.3M158.5 474.1V473.6M159.5 511.6V511.2M159.5 468.6V467.3M160.5 507.0V505.8M160.5 487.1V485.6M161.5 477.9V474.6M162.5 511.0V510.7M162.5 472.1V468.8M163.5 507.7V506.4M163.5 475.6V475.6M164.5 510.9V510.6M164.5 479.4V477.9M165.5 483.7V483.2M166.5 511.4V511.4M166.5 485.3V483.8M167.5 476.9V474.2M168.5 512.0V511.7M168.5 477.1V476.9M169.5 509.3V509.0M169.5 477.7V475.1M170.5 511.9V511.9M170.5 474.5V471.0M171.5 512.3V512.3M171.5 480.4V479.3M172.5 511.8V511.6M172.5 476.6V471.2M173.5 482.9V482.5M174.5 510.3V510.1M174.5 482.6V478.4M175.5 509.6V509.5M175.5 481.2V478.7M176.5 511.8V511.8M176.5 481.3V480.8M177.5 511.7V511.7M177.5 479.6V478.3M178.5 512.3V512.1M178.5 484.5V482.8M179.5 510.0V508.1M179.5 481.0V480.8M180.5 512.0V511.9M180.5 480.9V479.5M181.5 510.1V509.5M181.5 474.3V472.8M182.5 509.3V509.0M182.5 475.3V473.6M183.5 480.7V478.3M184.5 510.6V510.6M184.5 471.6V470.9M185.5 481.3V481.1M186.5 507.5V505.8M186.5 479.1V475.6M187.5 512.1V512.0M187.5 485.4V485.3M188.5 511.9V511.8M188.5 479.8V476.1M189.5 508.6V506.9M189.5 477.2V475.0M190.5 512.0V511.9M190.5 477.8V472.4M191.5 472.0V468.9M192.5 512.0V511.5M192.5 472.6V472.5M193.5 512.1V512.0M193.5 485.4V484.2M194.5 481.1V480.0M195.5 509.3V508.8M195.5 485.1V484.4M196.5 510.4V509.0M196.5 487.2V486.0M197.5 511.0V510.4M197.5 484.9V484.4M198.5 512.3V512.3M198.5 488.6V485.9M199.5 511.7V511.6M199.5 493.1V492.3M200.5 508.4V507.4M200.5 488.2V486.3M201.5 486.1V486.0M202.5 511.7V511.7M202.5 484.3V482.4M203.5 511.6V511.1M203.5 479.3V479.3M204.5 510.8V510.6M204.5 489.2V486.9M205.5 512.2V512.0M205.5 480.7V477.4M206.5 480.2V478.7M207.5 512.0V512.0M207.5 489.3V487.2M208.5 485.2V483.2M209.5 490.2V488.0M210.5 510.4V510.0M210.5 482.4V482.1M211.5 511.4V510.7M211.5 488.0V486.3M212.5 510.0V509.4M212.5 482.3V481.8M213.5 512.1V512.0M213.5 490.0V487.4M214.5 511.6V511.5M214.5 479.9V478.3M215.5 485.2V484.9M216.5 485.5V485.0M217.5 510.6V509.3M217.5 483.4V482.1M218.5 509.7V509.5M218.5 486.0V485.4M219.5 510.4V510.4M219.5 475.6V473.6M220.5 486.7V485.5M221.5 511.6V511.5M221.5 494.7V493.8M222.5 509.8V509.8M222.5 480.6V479.4M223.5 512.2V512.1M223.5 475.1V474.7M224.5 486.0V484.9M225.5 510.9V509.9M225.5 496.5V492.8M226.5 488.8V488.0M227.5 512.4V512.3M228.5 495.5V494.3M229.5 511.8V511.6M229.5 493.5V492.4M230.5 511.7V511.6M230.5 482.6V482.1M231.5 511.1V511.0M231.5 487.5V487.5M232.5 491.2V491.1M233.5 511.3V511.2M233.5 484.6V482.0M234.5 511.5V511.4M234.5 486.4V486.0M235.5 509.8V508.7M235.5 486.6V485.8M236.5 510.9V510.0M236.5 488.7V487.1M237.5 512.2V511.9M237.5 493.7V491.5M238.5 487.8V487.8M239.5 512.1V512.0M239.5 487.7V487.4M240.5 512.2V512.2M241.5 512.4V512.4M241.5 493.5V492.2M242.5 511.5V511.4M242.5 490.6V490.0M243.5 511.1V511.0M243.5 483.0V482.0M244.5 512.1V512.1M244.5 491.9V490.4M245.5 512.0V511.9M245.5 490.0V488.5M246.5 511.0V510.4M246.5 483.9V482.3M247.5 512.3V512.3M247.5 492.0V490.6M248.5 508.8V507.2M248.5 488.8V487.1M249.5 507.4V507.3M249.5 484.3V481.8M250.5 511.9V511.9M250.5 480.7V478.7M251.5 511.7V510.7M251.5 492.5V490.8M252.5 510.9V510.4M252.5 488.5V488.4M253.5 512.0V511.5M253.5 483.1V482.6M254.5 492.6V490.3M255.5 512.2V512.2M255.5 496.2V496.1M256.5 511.3V511.2M256.5 501.6V501.5M257.5 509.2V509.1M257.5 492.3V490.4M258.5 511.8V511.6M258.5 489.3V489.1M259.5 512.3V512.3M259.5 491.4V491.3M260.5 511.8V511.8M260.5 492.2V491.5M261.5 509.3V508.7M261.5 495.1V493.7M262.5 511.6V511.2M262.5 490.0V489.9M263.5 509.3V508.6M263.5 493.7V493.6M264.5 512.2V512.1M264.5 496.7V495.7M265.5 487.0V486.8M266.5 483.7V483.3M267.5 489.4V488.8M268.5 510.3V509.1M268.5 489.1V487.0M269.5 492.1V491.4M270.5 511.4V511.4M270.5 489.6V485.9M271.5 511.7V511.7M271.5 484.9V484.3M272.5 511.4V511.4M272.5 482.4V481.1M273.5 510.9V509.6M273.5 488.4V487.1M274.5 512.0V511.8M274.5 488.3V487.9M275.5 512.0V511.8M275.5 482.9V482.3M276.5 511.2V510.8M276.5 480.0V478.8M277.5 512.0V512.0M277.5 486.9V486.0M278.5 512.3V512.3M278.5 484.6V483.6M279.5 481.7V480.3M280.5 491.7V491.2M281.5 488.6V484.8M282.5 485.3V483.9M283.5 485.0V484.0M284.5 491.2V491.0M285.5 511.9V511.9M285.5 483.0V482.3M286.5 511.8V511.7M286.5 487.2V487.0M287.5 511.5V511.4M287.5 488.9V487.8M288.5 489.0V488.7M289.5 490.0V489.8M290.5 512.3V512.2M290.5 485.8V485.3M291.5 510.1V509.2M291.5 496.0V495.0M292.5 511.7V511.7M292.5 487.4V485.3M293.5 510.9V510.9M293.5 490.3V489.3M294.5 512.0V512.0M294.5 486.4V485.2M295.5 512.2V512.1M295.5 487.1V486.1M296.5 490.0V489.8M297.5 510.9V510.9M297.5 494.7V493.7M298.5 511.7V511.6M298.5 492.8V491.5M299.5 511.5V511.4M299.5 492.4V491.1M300.5 511.6V510.7M300.5 491.8V490.9M301.5 500.2V500.2M302.5 507.7V507.7M302.5 484.3V484.2M303.5 511.6V511.5M303.5 487.6V486.1M304.5 512.1V512.0M304.5 484.9V481.5M305.5 485.4V484.6M306.5 511.4V511.4M306.5 492.3V491.5M307.5 511.4V511.3M307.5 486.7V485.4M308.5 509.5V509.4M308.5 480.6V479.0M309.5 510.5V509.5M309.5 482.5V482.3M310.5 487.0V486.0M311.5 510.7V510.6M311.5 489.0V487.2M312.5 480.3V480.2M313.5 511.6V511.4M313.5 487.3V484.3M314.5 512.3V512.3M314.5 488.0V485.5M315.5 511.8V511.8M315.5 487.8V487.8M316.5 512.0V511.8M316.5 483.3V483.1M317.5 511.1V510.9M317.5 485.0V484.3M318.5 490.4V489.3M319.5 512.2V512.1M319.5 487.2V485.7M320.5 494.7V493.4M321.5 512.3V512.3M321.5 494.0V493.7M322.5 509.5V509.0M322.5 487.1V486.9M323.5 512.0V511.7M325.5 510.9V510.5M325.5 490.1V489.1M326.5 511.7V511.7M326.5 487.0V486.8M327.5 496.0V496.0M328.5 512.2V512.2M328.5 492.0V490.5M329.5 508.9V508.8M330.5 511.9V511.8M330.5 492.6V491.8M331.5 512.0V512.0M331.5 494.9V494.6M332.5 490.4V488.6M333.5 511.8V511.6M334.5 508.2V508.0M334.5 495.3V494.7M335.5 488.9V488.7M336.5 512.2V512.2M337.5 510.4V510.2M337.5 490.3V489.2" stroke="#5555ff" stroke-width="1" fill="none"/>
<path d="M66.5 512.0V475.5M67.5 511.1V484.9M68.5 509.8V488.7M69.5 512.2V476.8M70.5 512.4V487.2M71.5 510.2V484.7M72.5 512.4V483.2M73.5 510.4V482.4M74.5 507.8V477.5M75.5 512.4V487.8M76.5 512.0V484.0M77.5 511.8V489.2M78.5 511.4V478.1M79.5 509.3V480.3M80.5 512.4V484.9M81.5 512.1V478.8M82.5 512.4V485.9M83.5 512.2V479.5M84.5 511.6V478.6M85.5 512.3V484.7M86.5 512.4V476.8M87.5 510.4V478.5M88.5 509.9V480.2M89.5 510.0V451.6M90.5 508.2V458.9M91.5 512.4V452.1M92.5 512.4V462.0M93.5 509.2V451.6M94.5 508.8V458.1M95.5 509.9V442.9M96.5 512.4V463.6M97.5 512.4V466.6M98.5 510.5V451.1M99.5 508.4V450.4M100.5 511.6V450.7M101.5 511.4V438.7M102.5 507.9V468.1M103.5 507.0V474.7M104.5 512.0V463.6M105.5 505.4V481.5M106.5 510.9V472.2M107.5 512.4V479.1M108.5 509.8V483.1M109.5 511.1V478.1M110.5 511.2V473.5M111.5 511.7V477.9M112.5 512.4V473.3M113.5 512.4V483.1M114.5 510.2V486.6M115.5 511.2V477.5M116.5 512.4V485.0M117.5 508.0V478.3M118.5 512.4V484.5M119.5 512.4V475.8M120.5 510.6V467.7M121.5 509.1V465.0M122.5 504.8V465.7M123.5 507.6V449.0M124.5 512.4V455.0M125.5 505.2V453.7M126.5 512.4V448.0M127.5 508.5V458.8M128.5 510.0V455.2M129.5 503.4V455.9M130.5 511.4V445.6M131.5 510.4V462.8M132.5 511.4V472.4M133.5 511.7V470.9M134.5 508.6V472.5M135.5 512.4V465.1M136.5 505.5V467.5M137.5 512.4V471.6M138.5 510.9V476.7M139.5 512.2V477.0M140.5 508.5V480.5M141.5 510.6V487.3M142.5 511.1V470.4M143.5 512.4V470.9M144.5 512.4V475.9M145.5 508.3V482.7M146.5 507.2V480.3M147.5 512.3V477.6M148.5 512.1V479.9M149.5 512.4V478.7M150.5 512.3V486.9M151.5 507.7V483.0M152.5 509.7V472.7M153.5 512.4V480.0M154.5 510.4V461.6M155.5 505.4V473.1M156.5 512.4V473.3M157.5 509.0V474.9M158.5 510.3V474.1M159.5 511.2V468.6M160.5 505.8V487.1M161.5 512.4V477.9M162.5 510.7V472.1M163.5 506.4V475.6M164.5 510.6V479.4M165.5 512.4V483.7M166.5 511.4V485.3M167.5 512.4V476.9M168.5 511.7V477.1M169.5 509.0V477.7M170.5 511.9V474.5M171.5 512.3V480.4M172.5 511.6V476.6M173.5 512.4V482.9M174.5 510.1V482.6M175.5 509.5V481.2M176.5 511.8V481.3M177.5 511.7V479.6M178.5 512.1V484.5M179.5 508.1V481.0M180.5 511.9V480.9M181.5 509.5V474.3M182.5 509.0V475.3M183.5 512.4V480.7M184.5 510.6V471.6M185.5 512.4V481.3M186.5 505.8V479.1M187.5 512.0V485.4M188.5 511.8V479.8M189.5 506.9V477.2M190.5 511.9V477.8M191.5 512.4V472.0M192.5 511.5V472.6M193.5 512.0V485.4M194.5 512.4V481.1M195.5 508.8V485.1M196.5 509.0V487.2M197.5 510.4V484.9M198.5 512.3V488.6M199.5 511.6V493.1M200.5 507.4V488.2M201.5 512.4V486.1M202.5 511.7V484.3M203.5 511.1V479.3M204.5 510.6V489.2M205.5 512.0V480.7M206.5 512.4V480.2M207.5 512.0V489.3M208.5 512.4V485.2M209.5 512.4V490.2M210.5 510.0V482.4M211.5 510.7V488.0M212.5 509.4V482.3M213.5 512.0V490.0M214.5 511.5V479.9M215.5 512.4V485.2M216.5 512.4V485.5M217.5 509.3V483.4M218.5 509.5V486.0M219.5 510.4V475.6M220.5 512.4V486.7M221.5 511.5V494.7M222.5 509.8V480.6M223.5 512.1V475.1M224.5 512.4V486.0M225.5 509.9V496.5M226.5 512.4V488.8M227.5 512.3V478.8M228.5 512.4V495.5M229.5 511.6V493.5M230.5 511.6V482.6M231.5 511.0V487.5M232.5 512.4V491.2M233.5 511.2V484.6M234.5 511.4V486.4M235.5 508.7V486.6M236.5 510.0V488.7M237.5 511.9V493.7M238.5 512.4V487.8M239.5 512.0V487.7M240.5 512.2V479.3M241.5 512.4V493.5M242.5 511.4V490.6M243.5 511.0V483.0M244.5 512.1V491.9M245.5 511.9V490.0M246.5 510.4V483.9M247.5 512.3V492.0M248.5 507.2V488.8M249.5 507.3V484.3M250.5 511.9V480.7M251.5 510.7V492.5M252.5 510.4V488.5M253.5 511.5V483.1M254.5 512.4V492.6M255.5 512.2V496.2M256.5 511.2V501.6M257.5 509.1V492.3M258.5 511.6V489.3M259.5 512.3V491.4M260.5 511.8V492.2M261.5 508.7V495.1M262.5 511.2V490.0M263.5 508.6V493.7M264.5 512.1V496.7M265.5 512.4V487.0M266.5 512.4V483.7M267.5 512.4V489.4M268.5 509.1V489.1M269.5 512.4V492.1M270.5 511.4V489.6M271.5 511.7V484.9M272.5 511.4V482.4M273.5 509.6V488.4M274.5 511.8V488.3M275.5 511.8V482.9M276.5 510.8V480.0M277.5 512.0V486.9M278.5 512.3V484.6M279.5 512.4V481.7M280.5 512.4V491.7M281.5 512.4V488.6M282.5 512.4V485.3M283.5 512.4V485.0M284.5 512.4V491.2M285.5 511.9V483.0M286.5 511.7V487.2M287.5 511.4V488.9M288.5 512.4V489.0M289.5 512.4V490.0M290.5 512.2V485.8M291.5 509.2V496.0M292.5 511.7V487.4M293.5 510.9V490.3M294.5 512.0V486.4M295.5 512.1V487.1M296.5 512.4V490.0M297.5 510.9V494.7M298.5 511.6V492.8M299.5 511.4V492.4M300.5 510.7V491.8M301.5 512.4V500.2M302.5 507.7V484.3M303.5 511.5V487.6M304.5 512.0V484.9M305.5 512.4V485.4M306.5 511.4V492.3M307.5 511.3V486.7M308.5 509.4V480.6M309.5 509.5V482.5M310.5 512.4V487.0M311.5 510.6V489.0M312.5 512.4V480.3M313.5 511.4V487.3M314.5 512.3V488.0M315.5 511.8V487.8M316.5 511.8V483.3M317.5 510.9V485.0M318.5 512.4V490.4M319.5 512.1V487.2M320.5 512.4V494.7M321.5 512.3V494.0M322.5 509.0V487.1M323.5 511.7V487.1M324.5 512.4V487.1M325.5 510.5V490.1M326.5 511.7V487.0M327.5 512.4V496.0M328.5 512.2V492.0M329.5 508.8V486.6M330.5 511.8V492.6M331.5 512.0V494.9M332.5 512.4V490.4M333.5 511.6V487.8M334.5 508.0V495.3M335.5 512.4V488.9M336.5 512.2V488.8M337.5 510.2V490.3" stroke="#0000ff" stroke-width="1" fill="none"/>
</g>
<clipPath id="clipd"><rect x="426.00" y="324.40" width="291.00" height="192.85"/></clipPath>
<g clip-path="url(#clipd)">
<line x1="426.5" y1="517.2" x2="426.5" y2="324.4" stroke="#0000ff" stroke-width="1"/>
<line x1="428.5" y1="517.2" x2="428.5" y2="405.1" stroke="#4d4dff" stroke-width="1"/>
<line x1="433.5" y1="517.2" x2="433.5" y2="345.9" stroke="#6666ff" stroke-width="1"/>
<line x1="438.5" y1="517.2" x2="438.5" y2="428.0" stroke="#4d4dff" stroke-width="1"/>
<line x1="432.5" y1="517.2" x2="432.5" y2="451.9" stroke="#6666ff" stroke-width="1"/>
<line x1="436.5" y1="517.2" x2="436.5" y2="464.8" stroke="#6666ff" stroke-width="1"/>
<line x1="444.5" y1="517.2" x2="444.5" y2="451.9" stroke="#6666ff" stroke-width="1"/>
<line x1="450.5" y1="517.2" x2="450.5" y2="449.9" stroke="#4d4dff" stroke-width="1"/>
<line x1="457.5" y1="517.2" x2="457.5" y2="459.8" stroke="#6666ff" stroke-width="1"/>
<line x1="496.5" y1="517.2" x2="496.5" y2="454.2" stroke="#3333ff" stroke-width="1"/>
<line x1="488.5" y1="517.2" x2="488.5" y2="467.2" stroke="#4d4dff" stroke-width="1"/>
<line x1="492.5" y1="517.2" x2="492.5" y2="463.2" stroke="#4d4dff" stroke-width="1"/>
<line x1="500.5" y1="517.2" x2="500.5" y2="473.7" stroke="#6666ff" stroke-width="1"/>
<line x1="466.5" y1="517.2" x2="466.5" y2="472.0" stroke="#6666ff" stroke-width="1"/>
<line x1="683.5" y1="517.2" x2="683.5" y2="483.8" stroke="#4d4dff" stroke-width="1"/>
<line x1="602.5" y1="517.2" x2="602.5" y2="484.4" stroke="#6666ff" stroke-width="1"/>
<path d="M426.5 516.3V515.9M426.5 488.4V469.6M427.5 517.1V517.0M427.5 493.3V491.8M428.5 491.7V488.5M429.5 491.0V487.3M430.5 500.7V500.5M431.5 516.9V516.7M431.5 499.2V496.2M432.5 517.2V517.2M432.5 496.1V484.1M433.5 516.1V514.9M433.5 484.0V481.7M434.5 517.2V517.2M434.5 494.5V494.3M435.5 517.2V517.2M435.5 492.9V485.1M436.5 517.0V516.9M436.5 488.1V485.1M437.5 497.0V494.5M438.5 517.1V517.1M438.5 499.1V497.1M439.5 516.6V516.5M439.5 488.7V469.6M440.5 515.3V515.3M440.5 493.2V493.1M441.5 517.0V517.0M441.5 488.8V486.6M442.5 514.7V513.7M442.5 495.0V493.4M443.5 515.2V514.9M443.5 483.7V480.7M444.5 517.2V517.2M444.5 485.6V480.9M445.5 516.4V516.1M445.5 481.0V481.0M446.5 515.7V514.8M446.5 494.1V493.1M447.5 517.1V517.1M447.5 483.9V481.9M448.5 517.0V517.0M448.5 480.7V479.5M449.5 516.9V516.7M449.5 479.4V471.2M450.5 516.8V516.8M450.5 466.7V466.7M451.5 515.3V514.0M451.5 480.1V478.6M452.5 514.9V512.9M452.5 486.4V484.1M453.5 515.5V514.8M453.5 486.6V486.2M454.5 513.0V511.8M454.5 483.5V481.6M455.5 517.2V517.1M455.5 471.7V471.1M456.5 516.2V516.0M456.5 480.3V477.6M457.5 515.0V514.5M457.5 473.8V467.2M458.5 479.7V478.0M459.5 477.5V473.9M460.5 516.1V515.1M460.5 478.4V478.0M461.5 515.4V513.3M461.5 483.3V482.6M462.5 516.9V516.9M462.5 470.5V467.7M463.5 514.0V512.5M463.5 474.7V469.1M464.5 517.0V516.9M465.5 480.0V478.1M466.5 516.1V515.6M467.5 516.5V516.5M467.5 483.4V483.3M468.5 517.1V517.0M468.5 489.5V488.4M469.5 517.0V517.0M469.5 494.7V490.2M470.5 493.6V493.5M471.5 516.3V516.2M471.5 485.6V483.9M472.5 482.1V481.5M473.5 489.3V487.9M474.5 517.0V516.7M474.5 500.2V498.7M475.5 513.7V512.5M475.5 492.7V492.3M476.5 515.0V514.8M476.5 485.1V484.1M477.5 517.2V517.2M477.5 485.8V484.9M478.5 514.8V514.5M478.5 488.8V482.5M479.5 516.0V516.0M479.5 488.0V487.2M480.5 516.9V516.8M481.5 516.7V516.3M481.5 489.2V489.1M482.5 515.8V515.3M483.5 490.2V488.2M484.5 494.4V492.4M485.5 516.3V515.8M485.5 475.5V475.3M486.5 475.9V474.5M487.5 489.8V487.9M488.5 516.8V516.4M488.5 480.4V477.5M489.5 516.9V516.8M489.5 485.3V484.3M490.5 484.7V476.6M491.5 515.6V515.5M491.5 483.1V482.1M492.5 514.8V513.4M492.5 476.1V474.1M493.5 514.5V514.4M493.5 474.7V471.6M494.5 474.8V473.7M495.5 516.1V515.8M495.5 476.8V474.7M496.5 517.2V517.1M496.5 480.2V477.1M497.5 515.7V514.7M497.5 477.8V472.2M498.5 482.7V479.7M499.5 515.4V514.7M499.5 488.5V486.3M500.5 516.7V516.7M500.5 492.0V491.6M501.5 516.6V516.1M502.5 516.9V516.9M502.5 493.2V492.6M503.5 516.5V516.5M503.5 494.1V492.5M504.5 516.8V516.7M505.5 515.9V515.7M505.5 498.8V489.5M506.5 517.1V517.1M506.5 497.1V497.0M507.5 515.2V513.5M507.5 500.9V499.9M508.5 516.3V516.2M508.5 496.8V494.9M509.5 516.3V515.9M509.5 495.1V494.3M510.5 517.2V517.2M510.5 488.4V487.5M511.5 515.4V515.2M511.5 491.0V489.9M512.5 490.3V487.7M513.5 514.3V513.9M513.5 492.8V492.6M514.5 488.0V483.3M515.5 515.2V513.0M515.5 485.5V484.4M516.5 515.9V515.8M516.5 486.1V485.8M517.5 516.7V516.5M517.5 485.1V485.0M519.5 516.1V516.0M519.5 491.5V490.6M520.5 516.6V516.4M520.5 485.5V485.0M521.5 516.6V516.5M521.5 494.4V492.7M522.5 517.2V517.2M523.5 513.8V513.2M523.5 486.0V483.0M524.5 517.0V516.8M524.5 485.3V484.1M525.5 516.4V515.6M525.5 482.4V481.0M526.5 516.6V516.4M526.5 482.1V481.9M527.5 515.6V515.0M528.5 517.1V517.0M530.5 515.8V514.9M530.5 488.5V487.7M531.5 513.5V513.0M531.5 499.4V498.7M532.5 516.7V516.4M532.5 483.4V483.0M533.5 515.5V515.3M533.5 500.7V500.4M534.5 484.5V484.0M535.5 516.6V516.2M536.5 491.0V488.5M537.5 516.6V516.5M537.5 493.3V493.3M538.5 517.2V517.1M538.5 494.8V494.8M539.5 492.0V491.3M540.5 517.0V517.0M540.5 494.8V494.1M542.5 516.8V516.8M542.5 491.5V490.9M543.5 516.4V515.3M543.5 497.6V497.4M544.5 515.2V514.2M544.5 498.9V496.4M545.5 515.8V515.2M545.5 488.7V487.1M546.5 498.5V498.0M547.5 516.9V516.8M547.5 491.7V486.5M548.5 516.0V515.6M548.5 492.7V484.0M549.5 515.6V515.4M549.5 490.9V486.7M550.5 486.6V486.3M551.5 517.2V517.2M551.5 492.7V491.9M552.5 486.4V483.8M553.5 517.0V517.0M554.5 517.0V517.0M555.5 492.5V492.1M556.5 489.1V488.2M557.5 491.1V489.1M558.5 515.8V515.6M558.5 494.3V494.0M559.5 515.5V514.2M559.5 489.8V488.3M560.5 517.0V516.7M561.5 516.9V516.8M561.5 490.2V489.4M562.5 516.4V515.7M562.5 493.5V492.2M563.5 516.7V516.7M563.5 492.8V486.3M564.5 516.8V516.7M564.5 498.0V496.4M565.5 494.4V494.0M567.5 499.9V498.2M568.5 517.0V516.8M568.5 501.3V498.1M569.5 516.6V516.5M569.5 503.9V498.3M570.5 516.6V516.5M570.5 494.9V494.7M571.5 517.2V517.2M571.5 498.3V496.2M572.5 515.4V515.2M572.5 500.5V497.1M573.5 516.2V515.9M573.5 502.1V501.8M574.5 516.9V516.8M574.5 492.4V490.6M575.5 516.9V516.9M575.5 498.2V495.8M576.5 516.1V514.9M576.5 488.2V488.0M577.5 517.0V516.8M577.5 486.7V485.7M578.5 516.9V516.9M578.5 492.5V491.9M579.5 516.7V516.6M579.5 494.7V493.9M580.5 517.1V517.0M580.5 504.3V503.6M581.5 491.8V490.8M582.5 514.7V514.6M582.5 497.3V495.0M583.5 516.7V516.6M583.5 492.8V491.5M584.5 516.6V516.1M584.5 493.6V492.8M585.5 494.1V491.3M586.5 515.8V514.6M586.5 498.7V498.7M587.5 498.9V498.5M588.5 516.8V516.8M588.5 497.1V495.3M589.5 500.6V497.7M590.5 514.8V514.4M590.5 498.2V497.4M591.5 517.1V517.1M591.5 499.0V498.8M592.5 516.8V516.7M592.5 493.1V492.0M593.5 517.2V517.2M593.5 501.3V500.8M594.5 496.8V495.4M595.5 514.6V513.7M596.5 517.2V517.2M597.5 517.0V516.8M597.5 507.8V507.0M598.5 517.2V517.1M598.5 496.7V496.1M599.5 493.0V490.8M600.5 516.8V516.7M600.5 498.6V497.6M601.5 516.2V516.1M601.5 503.0V493.6M602.5 516.9V516.9M603.5 516.0V515.1M603.5 497.6V497.1M604.5 516.7V516.5M604.5 497.6V496.2M605.5 517.1V517.1M605.5 498.0V493.5M606.5 516.8V516.7M606.5 497.0V496.7M607.5 517.2V517.2M607.5 500.4V497.1M608.5 516.0V515.5M608.5 499.0V498.3M609.5 494.8V493.7M610.5 515.7V514.7M610.5 491.2V490.6M611.5 517.2V517.2M611.5 492.1V491.1M612.5 517.2V517.2M613.5 517.2V517.2M613.5 497.2V496.2M614.5 517.2V517.1M614.5 496.1V494.6M615.5 517.1V517.0M615.5 496.8V495.0M616.5 516.9V516.9M616.5 502.1V500.9M617.5 516.9V516.7M617.5 504.3V504.1M618.5 516.7V516.3M618.5 497.9V496.1M619.5 495.4V493.7M620.5 517.0V516.9M620.5 504.2V504.0M621.5 502.9V496.3M622.5 504.0V503.0M623.5 516.6V515.9M623.5 510.2V508.6M624.5 496.4V494.8M625.5 516.2V516.1M626.5 517.0V516.9M626.5 496.9V496.3M627.5 516.9V516.6M627.5 502.0V502.0M628.5 516.4V516.2M628.5 504.6V504.4M629.5 501.4V501.3M630.5 516.8V516.7M630.5 497.4V495.2M631.5 516.3V515.3M631.5 503.4V502.9M632.5 517.1V517.0M632.5 496.6V495.9M633.5 517.1V516.9M634.5 515.2V514.7M634.5 505.2V504.4M635.5 502.2V501.2M636.5 516.9V516.6M636.5 501.1V499.9M637.5 515.5V515.2M637.5 505.5V503.6M638.5 516.1V515.6M639.5 517.1V517.1M639.5 497.7V497.4M640.5 516.9V516.7M641.5 501.8V496.4M643.5 503.0V502.7M644.5 516.7V516.6M644.5 498.8V498.5M645.5 493.8V491.8M646.5 504.5V501.5M647.5 516.3V516.1M647.5 496.4V495.4M648.5 517.2V517.2M648.5 493.3V493.2M649.5 517.1V517.0M650.5 516.6V516.3M650.5 500.3V494.5M651.5 514.7V514.0M651.5 500.8V500.4M652.5 516.1V515.4M652.5 494.8V493.6M653.5 517.1V517.0M653.5 496.6V496.4M654.5 515.4V515.3M654.5 496.6V494.1M655.5 494.7V493.9M656.5 517.1V517.1M656.5 498.9V498.1M657.5 517.0V517.0M657.5 493.6V493.1M658.5 517.1V517.1M658.5 493.3V493.0M659.5 492.7V492.4M660.5 516.4V515.9M660.5 493.9V493.7M661.5 517.2V517.2M662.5 516.3V516.0M662.5 497.9V497.2M663.5 516.8V516.7M663.5 499.4V499.4M664.5 516.2V516.0M665.5 516.7V516.6M665.5 506.1V505.4M666.5 515.4V515.2M666.5 497.0V496.1M667.5 516.8V516.7M667.5 504.2V503.4M668.5 517.1V517.0M668.5 498.5V496.8M669.5 516.3V515.8M669.5 508.4V502.3M670.5 516.9V516.8M670.5 503.7V500.4M671.5 517.1V517.1M671.5 495.4V493.6M672.5 517.1V517.1M672.5 500.0V499.8M673.5 516.7V516.7M673.5 499.4V498.3M674.5 517.2V517.2M674.5 498.0V497.8M675.5 516.9V516.6M675.5 502.8V502.1M676.5 516.9V516.7M676.5 498.3V497.7M677.5 517.1V517.1M677.5 493.6V493.2M678.5 517.0V517.0M678.5 495.6V495.3M679.5 517.0V516.9M679.5 496.6V496.5M680.5 516.8V516.8M680.5 502.0V500.1M681.5 517.2V517.2M681.5 490.8V489.8M682.5 515.8V515.5M682.5 501.3V500.7M683.5 501.6V496.0M684.5 517.1V517.1M684.5 494.1V493.0M685.5 516.9V516.7M685.5 497.1V495.8M686.5 516.9V516.8M686.5 500.9V493.0M687.5 517.2V517.2M687.5 496.8V495.5M688.5 516.6V516.4M688.5 498.7V497.1M689.5 516.8V516.7M689.5 500.3V498.2M690.5 516.0V515.6M690.5 502.1V497.4M691.5 516.7V516.6M691.5 505.2V504.8M692.5 500.8V500.4M693.5 498.5V498.1M694.5 516.6V516.4M694.5 496.0V495.4M695.5 516.9V516.9M695.5 502.4V501.3M696.5 517.2V517.2M696.5 498.4V498.1M697.5 516.6V516.5M698.5 517.2V517.2M698.5 497.4V496.9M699.5 517.2V517.2M699.5 499.2V499.1M700.5 516.6V516.6M700.5 501.0V500.2M701.5 516.1V516.1M701.5 500.2V497.6M702.5 516.5V516.1M702.5 501.4V500.8M703.5 515.7V515.3M703.5 501.4V500.2M704.5 515.3V515.3M704.5 499.4V496.7M705.5 514.5V513.9M705.5 500.9V499.6M706.5 517.0V516.8M706.5 504.1V504.0M707.5 496.8V496.0M708.5 515.5V515.2M708.5 499.6V495.7M709.5 516.7V516.4M710.5 516.8V516.6M710.5 496.5V496.4M711.5 516.9V516.8M711.5 499.5V498.8M712.5 516.7V516.6M712.5 495.3V494.1M713.5 501.9V501.4M714.5 517.2V517.2M714.5 500.1V493.1M715.5 517.1V517.0M715.5 496.5V493.4M716.5 501.6V499.9" stroke="#aaaaff" stroke-width="1" fill="none"/>
<path d="M426.5 515.9V515.9M426.5 490.2V488.4M427.5 517.0V517.0M427.5 495.7V493.3M428.5 494.9V491.7M429.5 491.2V491.0M430.5 501.0V500.7M431.5 516.7V516.6M431.5 499.4V499.2M432.5 517.2V517.2M432.5 497.3V496.1M433.5 514.9V514.4M433.5 496.0V484.0M434.5 517.2V517.2M434.5 495.8V494.5M435.5 517.2V517.2M435.5 497.2V492.9M436.5 516.9V516.8M436.5 490.3V488.1M437.5 501.2V497.0M438.5 517.1V517.0M438.5 499.4V499.1M439.5 516.5V516.0M439.5 489.1V488.7M440.5 515.3V513.7M440.5 493.5V493.2M441.5 517.0V516.8M441.5 489.4V488.8M442.5 513.7V513.5M442.5 497.2V495.0M443.5 514.9V514.5M443.5 484.1V483.7M444.5 517.2V517.1M444.5 486.2V485.6M445.5 516.1V515.9M445.5 482.1V481.0M446.5 514.8V513.2M446.5 496.3V494.1M447.5 517.1V517.0M447.5 486.0V483.9M448.5 517.0V516.5M448.5 481.9V480.7M449.5 516.7V516.6M449.5 479.9V479.4M450.5 516.8V516.4M450.5 470.7V466.7M451.5 514.0V513.8M451.5 481.7V480.1M452.5 512.9V512.6M452.5 489.8V486.4M453.5 514.8V514.1M453.5 487.0V486.6M454.5 511.8V511.1M454.5 483.6V483.5M455.5 517.1V517.0M455.5 472.4V471.7M456.5 516.0V515.9M456.5 481.7V480.3M457.5 514.5V512.7M457.5 474.5V473.8M458.5 480.2V479.7M459.5 477.7V477.5M460.5 515.1V515.0M460.5 479.1V478.4M461.5 513.3V513.1M461.5 483.6V483.3M462.5 516.9V516.7M462.5 474.0V470.5M463.5 512.5V511.6M463.5 476.5V474.7M464.5 516.9V516.6M464.5 470.3V470.2M465.5 481.7V480.0M466.5 515.6V515.6M467.5 516.5V515.9M467.5 484.1V483.4M468.5 517.0V517.0M468.5 490.7V489.5M469.5 517.0V516.9M469.5 495.4V494.7M470.5 497.6V493.6M471.5 516.2V516.1M471.5 486.2V485.6M472.5 482.7V482.1M473.5 489.5V489.3M474.5 516.7V516.6M474.5 501.7V500.2M475.5 512.5V511.9M475.5 494.5V492.7M476.5 514.8V514.5M476.5 485.9V485.1M477.5 517.2V517.2M477.5 486.0V485.8M478.5 514.5V513.1M478.5 489.7V488.8M479.5 516.0V515.7M479.5 492.8V488.0M480.5 516.8V516.5M480.5 483.7V483.5M481.5 516.3V516.0M481.5 489.4V489.2M482.5 515.3V514.4M483.5 492.4V490.2M484.5 494.5V494.4M485.5 515.8V515.8M485.5 477.2V475.5M486.5 476.4V475.9M487.5 489.9V489.8M488.5 516.4V516.1M488.5 481.3V480.4M489.5 516.8V516.8M489.5 485.8V485.3M490.5 488.0V484.7M491.5 515.5V515.3M491.5 486.0V483.1M492.5 513.4V512.9M492.5 478.3V476.1M493.5 514.4V512.3M493.5 482.4V474.7M494.5 475.0V474.8M495.5 515.8V515.5M495.5 479.8V476.8M496.5 517.1V517.1M496.5 481.1V480.2M497.5 514.7V514.2M497.5 479.5V477.8M498.5 483.4V482.7M499.5 514.7V514.3M499.5 490.1V488.5M500.5 516.7V516.6M500.5 492.6V492.0M501.5 516.1V515.7M502.5 516.9V516.4M502.5 493.3V493.2M503.5 516.5V515.9M503.5 494.9V494.1M504.5 516.7V516.2M504.5 490.9V489.0M505.5 515.7V514.9M505.5 499.6V498.8M506.5 517.1V517.0M506.5 498.1V497.1M507.5 513.5V512.9M507.5 501.8V500.9M508.5 516.2V515.3M508.5 496.8V496.8M509.5 515.9V515.8M509.5 495.3V495.1M510.5 517.2V517.1M510.5 489.6V488.4M511.5 515.2V515.2M511.5 492.3V491.0M512.5 491.4V490.3M513.5 513.9V512.8M513.5 492.9V492.8M514.5 488.3V488.0M515.5 513.0V513.0M515.5 485.9V485.5M516.5 515.8V515.2M516.5 488.3V486.1M517.5 516.5V516.1M517.5 485.8V485.1M519.5 516.0V515.9M519.5 492.8V491.5M520.5 516.4V516.1M520.5 486.9V485.5M521.5 516.5V516.4M521.5 494.5V494.4M522.5 517.2V517.2M523.5 513.2V512.4M523.5 487.4V486.0M524.5 516.8V516.6M524.5 486.0V485.3M525.5 515.6V515.3M525.5 484.7V482.4M526.5 516.4V516.4M526.5 484.5V482.1M527.5 515.0V514.5M528.5 517.0V516.9M530.5 514.9V514.5M530.5 492.3V488.5M531.5 513.0V512.9M531.5 500.2V499.4M532.5 516.4V516.3M532.5 484.3V483.4M533.5 515.3V514.3M533.5 503.3V500.7M534.5 485.1V484.5M535.5 516.2V515.7M536.5 491.7V491.0M537.5 516.5V515.8M537.5 494.8V493.3M538.5 517.1V517.1M538.5 495.7V494.8M539.5 492.6V492.0M540.5 517.0V516.7M540.5 496.5V494.8M542.5 516.8V516.3M542.5 491.8V491.5M543.5 515.3V514.9M543.5 498.2V497.6M544.5 514.2V512.3M544.5 498.9V498.9M545.5 515.2V514.7M545.5 488.8V488.7M546.5 499.8V498.5M547.5 516.8V516.8M547.5 492.3V491.7M548.5 515.6V515.4M548.5 493.5V492.7M549.5 515.4V514.6M549.5 493.7V490.9M550.5 489.6V486.6M551.5 517.2V517.1M551.5 495.1V492.7M552.5 487.5V486.4M553.5 517.0V516.9M554.5 517.0V517.0M554.5 487.0V485.5M555.5 493.5V492.5M556.5 489.5V489.1M557.5 491.3V491.1M558.5 515.6V515.2M558.5 494.4V494.3M559.5 514.2V514.0M559.5 490.1V489.8M560.5 516.7V516.7M561.5 516.8V516.7M561.5 491.0V490.2M562.5 515.7V515.5M562.5 494.7V493.5M563.5 516.7V516.2M563.5 494.1V492.8M564.5 516.7V516.7M564.5 498.5V498.0M565.5 495.5V494.4M567.5 500.4V499.9M568.5 516.8V516.7M568.5 501.6V501.3M569.5 516.5V516.2M569.5 504.1V503.9M570.5 516.5V516.0M570.5 495.9V494.9M571.5 517.2V517.2M571.5 499.0V498.3M572.5 515.2V514.4M572.5 500.7V500.5M573.5 515.9V515.4M573.5 502.9V502.1M574.5 516.8V516.8M574.5 493.0V492.4M575.5 516.9V516.7M575.5 499.8V498.2M576.5 514.9V514.8M576.5 490.3V488.2M577.5 516.8V516.6M577.5 486.9V486.7M578.5 516.9V516.4M578.5 494.8V492.5M579.5 516.6V516.1M579.5 494.9V494.7M580.5 517.0V517.0M580.5 504.9V504.3M581.5 492.6V491.8M582.5 514.6V514.5M582.5 497.8V497.3M583.5 516.6V516.5M583.5 494.7V492.8M584.5 516.1V516.1M584.5 493.9V493.6M585.5 494.4V494.1M586.5 514.6V513.9M586.5 499.4V498.7M587.5 499.2V498.9M588.5 516.8V516.7M588.5 497.4V497.1M589.5 502.9V500.6M590.5 514.4V514.3M590.5 498.3V498.2M591.5 517.1V517.0M591.5 499.9V499.0M592.5 516.7V516.6M592.5 493.2V493.1M593.5 517.2V517.2M593.5 501.8V501.3M594.5 499.1V496.8M595.5 513.7V513.6M596.5 517.2V517.2M597.5 516.8V516.7M597.5 508.1V507.8M598.5 517.1V517.1M598.5 498.7V496.7M599.5 495.4V493.0M600.5 516.7V516.4M600.5 499.3V498.6M601.5 516.1V516.0M601.5 503.7V503.0M602.5 516.9V516.7M603.5 515.1V515.0M603.5 498.6V497.6M604.5 516.5V516.5M604.5 497.8V497.6M605.5 517.1V516.9M605.5 499.3V498.0M606.5 516.7V516.6M606.5 497.1V497.0M607.5 517.2V517.2M607.5 503.0V500.4M608.5 515.5V515.4M608.5 499.6V499.0M609.5 494.8V494.8M610.5 514.7V514.0M610.5 496.7V491.2M611.5 517.2V517.2M611.5 494.4V492.1M612.5 517.2V517.2M612.5 492.7V491.6M613.5 517.2V517.2M613.5 498.1V497.2M614.5 517.1V517.1M614.5 496.8V496.1M615.5 517.0V517.0M615.5 497.7V496.8M616.5 516.9V516.7M616.5 502.7V502.1M617.5 516.7V516.6M617.5 504.5V504.3M618.5 516.3V516.3M618.5 498.4V497.9M619.5 501.8V495.4M620.5 516.9V516.8M620.5 504.3V504.2M621.5 503.4V502.9M622.5 504.1V504.0M623.5 515.9V515.8M623.5 510.2V510.2M624.5 497.2V496.4M625.5 516.1V515.9M626.5 516.9V516.9M626.5 497.4V496.9M627.5 516.6V516.4M627.5 502.7V502.0M628.5 516.2V516.0M628.5 504.8V504.6M629.5 501.8V501.4M630.5 516.7V516.5M630.5 499.0V497.4M631.5 515.3V515.2M631.5 503.6V503.4M632.5 517.0V516.8M632.5 497.0V496.6M633.5 516.9V516.9M633.5 496.5V496.0M634.5 514.7V513.5M634.5 505.3V505.2M635.5 503.4V502.2M636.5 516.6V516.5M636.5 501.9V501.1M637.5 515.2V514.9M637.5 506.3V505.5M638.5 515.6V515.5M638.5 497.8V497.1M639.5 517.1V517.0M639.5 499.8V497.7M640.5 516.7V516.7M641.5 502.9V501.8M642.5 496.9V494.8M643.5 504.4V503.0M644.5 516.6V516.5M644.5 499.6V498.8M645.5 494.0V493.8M646.5 505.0V504.5M647.5 516.1V516.1M647.5 497.3V496.4M648.5 517.2V517.2M648.5 493.8V493.3M649.5 517.0V517.0M649.5 494.8V494.0M650.5 516.3V516.1M650.5 501.2V500.3M651.5 514.0V513.8M651.5 500.8V500.8M652.5 515.4V515.0M652.5 495.9V494.8M653.5 517.0V517.0M653.5 498.0V496.6M654.5 515.3V513.8M654.5 497.0V496.6M655.5 494.7V494.7M656.5 517.1V517.1M656.5 500.1V498.9M657.5 517.0V516.8M657.5 493.7V493.6M658.5 517.1V517.1M658.5 494.2V493.3M659.5 492.8V492.7M660.5 515.9V515.9M660.5 494.7V493.9M661.5 517.2V517.1M662.5 516.0V515.8M662.5 499.1V497.9M663.5 516.7V516.7M663.5 499.6V499.4M664.5 516.0V515.8M665.5 516.6V516.5M665.5 506.5V506.1M666.5 515.2V514.8M666.5 497.5V497.0M667.5 516.7V516.6M667.5 504.9V504.2M668.5 517.0V517.0M668.5 499.3V498.5M669.5 515.8V515.6M669.5 510.2V508.4M670.5 516.8V516.8M670.5 505.0V503.7M671.5 517.1V517.0M671.5 496.3V495.4M672.5 517.1V517.1M672.5 500.2V500.0M673.5 516.7V516.4M673.5 500.1V499.4M674.5 517.2V517.2M674.5 498.1V498.0M675.5 516.6V516.4M675.5 502.8V502.8M676.5 516.7V516.7M676.5 499.7V498.3M677.5 517.1V517.1M677.5 495.8V493.6M678.5 517.0V516.9M678.5 496.8V495.6M679.5 516.9V516.9M679.5 499.5V496.6M680.5 516.8V516.5M680.5 502.3V502.0M681.5 517.2V517.1M681.5 491.2V490.8M682.5 515.5V514.5M682.5 502.2V501.3M683.5 505.7V501.6M684.5 517.1V517.0M684.5 494.8V494.1M685.5 516.7V516.7M685.5 497.4V497.1M686.5 516.8V516.8M686.5 503.6V500.9M687.5 517.2V517.1M687.5 500.1V496.8M688.5 516.4V516.2M688.5 499.4V498.7M689.5 516.7V516.7M689.5 501.2V500.3M690.5 515.6V515.5M690.5 503.5V502.1M691.5 516.6V516.5M691.5 506.4V505.2M692.5 501.0V500.8M693.5 498.7V498.5M694.5 516.4V516.1M694.5 496.8V496.0M695.5 516.9V516.8M695.5 502.5V502.4M696.5 517.2V517.2M696.5 498.4V498.4M697.5 516.5V516.4M698.5 517.2V517.2M698.5 497.9V497.4M699.5 517.2V517.2M699.5 499.3V499.2M700.5 516.6V516.4M700.5 501.4V501.0M701.5 516.1V516.0M701.5 500.4V500.2M702.5 516.1V515.9M702.5 502.4V501.4M703.5 515.3V515.3M703.5 502.6V501.4M704.5 515.3V514.1M704.5 500.4V499.4M705.5 513.9V513.5M705.5 501.8V500.9M706.5 516.8V516.8M706.5 504.5V504.1M707.5 497.6V496.8M708.5 515.2V514.5M708.5 500.8V499.6M709.5 516.4V516.4M709.5 495.5V495.5M710.5 516.6V516.5M710.5 496.7V496.5M711.5 516.8V516.7M711.5 501.1V499.5M712.5 516.6V516.3M712.5 496.2V495.3M713.5 502.1V501.9M714.5 517.2V517.1M714.5 501.9V500.1M715.5 517.0V517.0M715.5 498.8V496.5M716.5 501.6V501.6" stroke="#5555ff" stroke-width="1" fill="none"/>
<path d="M426.5 515.9V490.2M427.5 517.0V495.7M428.5 517.2V494.9M429.5 517.2V491.2M430.5 517.2V501.0M431.5 516.6V499.4M432.5 517.2V497.3M433.5 514.4V496.0M434.5 517.2V495.8M435.5 517.2V497.2M436.5 516.8V490.3M437.5 517.2V501.2M438.5 517.0V499.4M439.5 516.0V489.1M440.5 513.7V493.5M441.5 516.8V489.4M442.5 513.5V497.2M443.5 514.5V484.1M444.5 517.1V486.2M445.5 515.9V482.1M446.5 513.2V496.3M447.5 517.0V486.0M448.5 516.5V481.9M449.5 516.6V479.9M450.5 516.4V470.7M451.5 513.8V481.7M452.5 512.6V489.8M453.5 514.1V487.0M454.5 511.1V483.6M455.5 517.0V472.4M456.5 515.9V481.7M457.5 512.7V474.5M458.5 517.2V480.2M459.5 517.2V477.7M460.5 515.0V479.1M461.5 513.1V483.6M462.5 516.7V474.0M463.5 511.6V476.5M464.5 516.6V470.3M465.5 517.2V481.7M466.5 515.6V473.1M467.5 515.9V484.1M468.5 517.0V490.7M469.5 516.9V495.4M470.5 517.2V497.6M471.5 516.1V486.2M472.5 517.2V482.7M473.5 517.2V489.5M474.5 516.6V501.7M475.5 511.9V494.5M476.5 514.5V485.9M477.5 517.2V486.0M478.5 513.1V489.7M479.5 515.7V492.8M480.5 516.5V483.7M481.5 516.0V489.4M482.5 514.4V482.9M483.5 517.2V492.4M484.5 517.2V494.5M485.5 515.8V477.2M486.5 517.2V476.4M487.5 517.2V489.9M488.5 516.1V481.3M489.5 516.8V485.8M490.5 517.2V488.0M491.5 515.3V486.0M492.5 512.9V478.3M493.5 512.3V482.4M494.5 517.2V475.0M495.5 515.5V479.8M496.5 517.1V481.1M497.5 514.2V479.5M498.5 517.2V483.4M499.5 514.3V490.1M500.5 516.6V492.6M501.5 515.7V485.3M502.5 516.4V493.3M503.5 515.9V494.9M504.5 516.2V490.9M505.5 514.9V499.6M506.5 517.0V498.1M507.5 512.9V501.8M508.5 515.3V496.8M509.5 515.8V495.3M510.5 517.1V489.6M511.5 515.2V492.3M512.5 517.2V491.4M513.5 512.8V492.9M514.5 517.2V488.3M515.5 513.0V485.9M516.5 515.2V488.3M517.5 516.1V485.8M518.5 517.2V481.9M519.5 515.9V492.8M520.5 516.1V486.9M521.5 516.4V494.5M522.5 517.2V482.2M523.5 512.4V487.4M524.5 516.6V486.0M525.5 515.3V484.7M526.5 516.4V484.5M527.5 514.5V480.4M528.5 516.9V480.9M529.5 517.2V481.4M530.5 514.5V492.3M531.5 512.9V500.2M532.5 516.3V484.3M533.5 514.3V503.3M534.5 517.2V485.1M535.5 515.7V484.2M536.5 517.2V491.7M537.5 515.8V494.8M538.5 517.1V495.7M539.5 517.2V492.6M540.5 516.7V496.5M541.5 517.2V486.8M542.5 516.3V491.8M543.5 514.9V498.2M544.5 512.3V498.9M545.5 514.7V488.8M546.5 517.2V499.8M547.5 516.8V492.3M548.5 515.4V493.5M549.5 514.6V493.7M550.5 517.2V489.6M551.5 517.1V495.1M552.5 517.2V487.5M553.5 516.9V484.0M554.5 517.0V487.0M555.5 517.2V493.5M556.5 517.2V489.5M557.5 517.2V491.3M558.5 515.2V494.4M559.5 514.0V490.1M560.5 516.7V487.6M561.5 516.7V491.0M562.5 515.5V494.7M563.5 516.2V494.1M564.5 516.7V498.5M565.5 517.2V495.5M566.5 517.2V486.3M567.5 517.2V500.4M568.5 516.7V501.6M569.5 516.2V504.1M570.5 516.0V495.9M571.5 517.2V499.0M572.5 514.4V500.7M573.5 515.4V502.9M574.5 516.8V493.0M575.5 516.7V499.8M576.5 514.8V490.3M577.5 516.6V486.9M578.5 516.4V494.8M579.5 516.1V494.9M580.5 517.0V504.9M581.5 517.2V492.6M582.5 514.5V497.8M583.5 516.5V494.7M584.5 516.1V493.9M585.5 517.2V494.4M586.5 513.9V499.4M587.5 517.2V499.2M588.5 516.7V497.4M589.5 517.2V502.9M590.5 514.3V498.3M591.5 517.0V499.9M592.5 516.6V493.2M593.5 517.2V501.8M594.5 517.2V499.1M595.5 513.6V491.6M596.5 517.2V491.1M597.5 516.7V508.1M598.5 517.1V498.7M599.5 517.2V495.4M600.5 516.4V499.3M601.5 516.0V503.7M602.5 516.7V488.4M603.5 515.0V498.6M604.5 516.5V497.8M605.5 516.9V499.3M606.5 516.6V497.1M607.5 517.2V503.0M608.5 515.4V499.6M609.5 517.2V494.8M610.5 514.0V496.7M611.5 517.2V494.4M612.5 517.2V492.7M613.5 517.2V498.1M614.5 517.1V496.8M615.5 517.0V497.7M616.5 516.7V502.7M617.5 516.6V504.5M618.5 516.3V498.4M619.5 517.2V501.8M620.5 516.8V504.3M621.5 517.2V503.4M622.5 517.2V504.1M623.5 515.8V510.2M624.5 517.2V497.2M625.5 515.9V493.5M626.5 516.9V497.4M627.5 516.4V502.7M628.5 516.0V504.8M629.5 517.2V501.8M630.5 516.5V499.0M631.5 515.2V503.6M632.5 516.8V497.0M633.5 516.9V496.5M634.5 513.5V505.3M635.5 517.2V503.4M636.5 516.5V501.9M637.5 514.9V506.3M638.5 515.5V497.8M639.5 517.0V499.8M640.5 516.7V496.1M641.5 517.2V502.9M642.5 517.2V496.9M643.5 517.2V504.4M644.5 516.5V499.6M645.5 517.2V494.0M646.5 517.2V505.0M647.5 516.1V497.3M648.5 517.2V493.8M649.5 517.0V494.8M650.5 516.1V501.2M651.5 513.8V500.8M652.5 515.0V495.9M653.5 517.0V498.0M654.5 513.8V497.0M655.5 517.2V494.7M656.5 517.1V500.1M657.5 516.8V493.7M658.5 517.1V494.2M659.5 517.2V492.8M660.5 515.9V494.7M661.5 517.1V494.0M662.5 515.8V499.1M663.5 516.7V499.6M664.5 515.8V495.6M665.5 516.5V506.5M666.5 514.8V497.5M667.5 516.6V504.9M668.5 517.0V499.3M669.5 515.6V510.2M670.5 516.8V505.0M671.5 517.0V496.3M672.5 517.1V500.2M673.5 516.4V500.1M674.5 517.2V498.1M675.5 516.4V502.8M676.5 516.7V499.7M677.5 517.1V495.8M678.5 516.9V496.8M679.5 516.9V499.5M680.5 516.5V502.3M681.5 517.1V491.2M682.5 514.5V502.2M683.5 517.2V505.7M684.5 517.0V494.8M685.5 516.7V497.4M686.5 516.8V503.6M687.5 517.1V500.1M688.5 516.2V499.4M689.5 516.7V501.2M690.5 515.5V503.5M691.5 516.5V506.4M692.5 517.2V501.0M693.5 517.2V498.7M694.5 516.1V496.8M695.5 516.8V502.5M696.5 517.2V498.4M697.5 516.4V495.2M698.5 517.2V497.9M699.5 517.2V499.3M700.5 516.4V501.4M701.5 516.0V500.4M702.5 515.9V502.4M703.5 515.3V502.6M704.5 514.1V500.4M705.5 513.5V501.8M706.5 516.8V504.5M707.5 517.2V497.6M708.5 514.5V500.8M709.5 516.4V495.5M710.5 516.5V496.7M711.5 516.7V501.1M712.5 516.3V496.2M713.5 517.2V502.1M714.5 517.1V501.9M715.5 517.0V498.8M716.5 517.2V501.6" stroke="#0000ff" stroke-width="1" fill="none"/>
</g>
<line x1="59.00" y1="220.50" x2="347.00" y2="220.50" stroke="#5a5a5a" stroke-width="1"/>
<line x1="59.50" y1="220.20" x2="62.10" y2="220.20" stroke="#5a5a5a" stroke-width="0.7"/>
<line x1="59.50" y1="170.90" x2="62.10" y2="170.90" stroke="#5a5a5a" stroke-width="0.7"/>
<line x1="59.50" y1="121.60" x2="62.10" y2="121.60" stroke="#5a5a5a" stroke-width="0.7"/>
<line x1="59.50" y1="72.30" x2="62.10" y2="72.30" stroke="#5a5a5a" stroke-width="0.7"/>
<line x1="59.50" y1="220.20" x2="59.50" y2="217.60" stroke="#5a5a5a" stroke-width="0.7"/>
<line x1="95.38" y1="220.20" x2="95.38" y2="217.60" stroke="#5a5a5a" stroke-width="0.7"/>
<line x1="131.25" y1="220.20" x2="131.25" y2="217.60" stroke="#5a5a5a" stroke-width="0.7"/>
<line x1="167.12" y1="220.20" x2="167.12" y2="217.60" stroke="#5a5a5a" stroke-width="0.7"/>
<line x1="203.00" y1="220.20" x2="203.00" y2="217.60" stroke="#5a5a5a" stroke-width="0.7"/>
<line x1="238.88" y1="220.20" x2="238.88" y2="217.60" stroke="#5a5a5a" stroke-width="0.7"/>
<line x1="274.75" y1="220.20" x2="274.75" y2="217.60" stroke="#5a5a5a" stroke-width="0.7"/>
<line x1="310.62" y1="220.20" x2="310.62" y2="217.60" stroke="#5a5a5a" stroke-width="0.7"/>
<line x1="346.50" y1="220.20" x2="346.50" y2="217.60" stroke="#5a5a5a" stroke-width="0.7"/>
<line x1="426.60" y1="219.50" x2="718.00" y2="219.50" stroke="#5a5a5a" stroke-width="1"/>
<line x1="427.20" y1="219.80" x2="429.80" y2="219.80" stroke="#5a5a5a" stroke-width="0.7"/>
<line x1="427.20" y1="192.03" x2="429.80" y2="192.03" stroke="#5a5a5a" stroke-width="0.7"/>
<line x1="427.20" y1="164.26" x2="429.80" y2="164.26" stroke="#5a5a5a" stroke-width="0.7"/>
<line x1="427.20" y1="136.49" x2="429.80" y2="136.49" stroke="#5a5a5a" stroke-width="0.7"/>
<line x1="427.20" y1="108.72" x2="429.80" y2="108.72" stroke="#5a5a5a" stroke-width="0.7"/>
<line x1="427.20" y1="80.95" x2="429.80" y2="80.95" stroke="#5a5a5a" stroke-width="0.7"/>
<line x1="427.20" y1="53.18" x2="429.80" y2="53.18" stroke="#5a5a5a" stroke-width="0.7"/>
<line x1="427.20" y1="219.80" x2="427.20" y2="217.20" stroke="#5a5a5a" stroke-width="0.7"/>
<line x1="463.49" y1="219.80" x2="463.49" y2="217.20" stroke="#5a5a5a" stroke-width="0.7"/>
<line x1="499.77" y1="219.80" x2="499.77" y2="217.20" stroke="#5a5a5a" stroke-width="0.7"/>
<line x1="536.06" y1="219.80" x2="536.06" y2="217.20" stroke="#5a5a5a" stroke-width="0.7"/>
<line x1="572.35" y1="219.80" x2="572.35" y2="217.20" stroke="#5a5a5a" stroke-width="0.7"/>
<line x1="608.64" y1="219.80" x2="608.64" y2="217.20" stroke="#5a5a5a" stroke-width="0.7"/>
<line x1="644.92" y1="219.80" x2="644.92" y2="217.20" stroke="#5a5a5a" stroke-width="0.7"/>
<line x1="681.21" y1="219.80" x2="681.21" y2="217.20" stroke="#5a5a5a" stroke-width="0.7"/>
<line x1="717.50" y1="219.80" x2="717.50" y2="217.20" stroke="#5a5a5a" stroke-width="0.7"/>
<line x1="66.60" y1="512.50" x2="338.00" y2="512.50" stroke="#5a5a5a" stroke-width="1"/>
<line x1="67.10" y1="512.40" x2="69.70" y2="512.40" stroke="#5a5a5a" stroke-width="0.7"/>
<line x1="67.10" y1="473.20" x2="69.70" y2="473.20" stroke="#5a5a5a" stroke-width="0.7"/>
<line x1="67.10" y1="434.00" x2="69.70" y2="434.00" stroke="#5a5a5a" stroke-width="0.7"/>
<line x1="67.10" y1="394.80" x2="69.70" y2="394.80" stroke="#5a5a5a" stroke-width="0.7"/>
<line x1="67.10" y1="355.60" x2="69.70" y2="355.60" stroke="#5a5a5a" stroke-width="0.7"/>
<line x1="67.10" y1="512.40" x2="67.10" y2="509.80" stroke="#5a5a5a" stroke-width="0.7"/>
<line x1="100.90" y1="512.40" x2="100.90" y2="509.80" stroke="#5a5a5a" stroke-width="0.7"/>
<line x1="134.70" y1="512.40" x2="134.70" y2="509.80" stroke="#5a5a5a" stroke-width="0.7"/>
<line x1="168.50" y1="512.40" x2="168.50" y2="509.80" stroke="#5a5a5a" stroke-width="0.7"/>
<line x1="202.30" y1="512.40" x2="202.30" y2="509.80" stroke="#5a5a5a" stroke-width="0.7"/>
<line x1="236.10" y1="512.40" x2="236.10" y2="509.80" stroke="#5a5a5a" stroke-width="0.7"/>
<line x1="269.90" y1="512.40" x2="269.90" y2="509.80" stroke="#5a5a5a" stroke-width="0.7"/>
<line x1="303.70" y1="512.40" x2="303.70" y2="509.80" stroke="#5a5a5a" stroke-width="0.7"/>
<line x1="337.50" y1="512.40" x2="337.50" y2="509.80" stroke="#5a5a5a" stroke-width="0.7"/>
<line x1="426.00" y1="517.50" x2="717.00" y2="517.50" stroke="#5a5a5a" stroke-width="1"/>
<line x1="426.50" y1="517.25" x2="429.10" y2="517.25" stroke="#5a5a5a" stroke-width="0.7"/>
<line x1="426.50" y1="486.72" x2="429.10" y2="486.72" stroke="#5a5a5a" stroke-width="0.7"/>
<line x1="426.50" y1="456.19" x2="429.10" y2="456.19" stroke="#5a5a5a" stroke-width="0.7"/>
<line x1="426.50" y1="425.66" x2="429.10" y2="425.66" stroke="#5a5a5a" stroke-width="0.7"/>
<line x1="426.50" y1="395.13" x2="429.10" y2="395.13" stroke="#5a5a5a" stroke-width="0.7"/>
<line x1="426.50" y1="364.60" x2="429.10" y2="364.60" stroke="#5a5a5a" stroke-width="0.7"/>
<line x1="426.50" y1="334.07" x2="429.10" y2="334.07" stroke="#5a5a5a" stroke-width="0.7"/>
<line x1="426.50" y1="517.25" x2="426.50" y2="514.65" stroke="#5a5a5a" stroke-width="0.7"/>
<line x1="462.75" y1="517.25" x2="462.75" y2="514.65" stroke="#5a5a5a" stroke-width="0.7"/>
<line x1="499.00" y1="517.25" x2="499.00" y2="514.65" stroke="#5a5a5a" stroke-width="0.7"/>
<line x1="535.25" y1="517.25" x2="535.25" y2="514.65" stroke="#5a5a5a" stroke-width="0.7"/>
<line x1="571.50" y1="517.25" x2="571.50" y2="514.65" stroke="#5a5a5a" stroke-width="0.7"/>
<line x1="607.75" y1="517.25" x2="607.75" y2="514.65" stroke="#5a5a5a" stroke-width="0.7"/>
<line x1="644.00" y1="517.25" x2="644.00" y2="514.65" stroke="#5a5a5a" stroke-width="0.7"/>
<line x1="680.25" y1="517.25" x2="680.25" y2="514.65" stroke="#5a5a5a" stroke-width="0.7"/>
<line x1="716.50" y1="517.25" x2="716.50" y2="514.65" stroke="#5a5a5a" stroke-width="0.7"/>
<text x="55.50" y="224.22" text-anchor="end" font-size="11.90" fill="#262626" stroke="#262626" stroke-width="0.2">0</text>
<text x="55.50" y="174.92" text-anchor="end" font-size="11.90" fill="#262626" stroke="#262626" stroke-width="0.2">0.005</text>
<text x="55.50" y="125.62" text-anchor="end" font-size="11.90" fill="#262626" stroke="#262626" stroke-width="0.2">0.01</text>
<text x="55.50" y="76.32" text-anchor="end" font-size="11.90" fill="#262626" stroke="#262626" stroke-width="0.2">0.015</text>
<text x="59.50" y="234.40" text-anchor="middle" font-size="11.90" fill="#262626" stroke="#262626" stroke-width="0.2">0</text>
<text x="95.38" y="234.40" text-anchor="middle" font-size="11.90" fill="#262626" stroke="#262626" stroke-width="0.2">50</text>
<text x="131.25" y="234.40" text-anchor="middle" font-size="11.90" fill="#262626" stroke="#262626" stroke-width="0.2">100</text>
<text x="167.12" y="234.40" text-anchor="middle" font-size="11.90" fill="#262626" stroke="#262626" stroke-width="0.2">150</text>
<text x="203.00" y="234.40" text-anchor="middle" font-size="11.90" fill="#262626" stroke="#262626" stroke-width="0.2">200</text>
<text x="238.88" y="234.40" text-anchor="middle" font-size="11.90" fill="#262626" stroke="#262626" stroke-width="0.2">250</text>
<text x="274.75" y="234.40" text-anchor="middle" font-size="11.90" fill="#262626" stroke="#262626" stroke-width="0.2">300</text>
<text x="310.62" y="234.40" text-anchor="middle" font-size="11.90" fill="#262626" stroke="#262626" stroke-width="0.2">350</text>
<text x="346.50" y="234.40" text-anchor="middle" font-size="11.90" fill="#262626" stroke="#262626" stroke-width="0.2">400</text>
<text x="203.15" y="21.3" text-anchor="middle" font-size="12.50" font-weight="bold" fill="#000">Envelope Analysis</text>
<text x="201.9" y="250.8" text-anchor="middle" font-size="12.85" fill="#262626" stroke="#262626" stroke-width="0.2">Frequency [Hz]</text>
<text transform="translate(23.6,123.35) rotate(-90)" x="0" y="0" text-anchor="middle" font-size="12.80" fill="#262626" stroke="#262626" stroke-width="0.2">Amplitude</text>
<text x="185.2" y="280.8" text-anchor="middle" font-size="18.00" fill="#000">(<tspan font-weight="bold">a</tspan>)</text>
<text x="97.2" y="73.8" font-size="10.10" font-weight="bold" font-style="italic" fill="#000">1 x BSF</text>
<text x="130.1" y="127.1" font-size="10.10" font-weight="bold" font-style="italic" fill="#000">2 x BSF</text>
<text x="162.3" y="155.6" font-size="10.10" font-weight="bold" font-style="italic" fill="#000">3 x BSF</text>
<text x="194.1" y="165.7" font-size="10.10" font-weight="bold" font-style="italic" fill="#000">4 x BSF</text>
<text x="423.20" y="223.82" text-anchor="end" font-size="11.90" fill="#262626" stroke="#262626" stroke-width="0.2">0</text>
<text x="423.20" y="196.05" text-anchor="end" font-size="11.90" fill="#262626" stroke="#262626" stroke-width="0.2">1</text>
<text x="423.20" y="168.28" text-anchor="end" font-size="11.90" fill="#262626" stroke="#262626" stroke-width="0.2">2</text>
<text x="423.20" y="140.51" text-anchor="end" font-size="11.90" fill="#262626" stroke="#262626" stroke-width="0.2">3</text>
<text x="423.20" y="112.74" text-anchor="end" font-size="11.90" fill="#262626" stroke="#262626" stroke-width="0.2">4</text>
<text x="423.20" y="84.97" text-anchor="end" font-size="11.90" fill="#262626" stroke="#262626" stroke-width="0.2">5</text>
<text x="423.20" y="57.20" text-anchor="end" font-size="11.90" fill="#262626" stroke="#262626" stroke-width="0.2">6</text>
<text x="427.20" y="234.00" text-anchor="middle" font-size="11.90" fill="#262626" stroke="#262626" stroke-width="0.2">0</text>
<text x="463.49" y="234.00" text-anchor="middle" font-size="11.90" fill="#262626" stroke="#262626" stroke-width="0.2">50</text>
<text x="499.77" y="234.00" text-anchor="middle" font-size="11.90" fill="#262626" stroke="#262626" stroke-width="0.2">100</text>
<text x="536.06" y="234.00" text-anchor="middle" font-size="11.90" fill="#262626" stroke="#262626" stroke-width="0.2">150</text>
<text x="572.35" y="234.00" text-anchor="middle" font-size="11.90" fill="#262626" stroke="#262626" stroke-width="0.2">200</text>
<text x="608.64" y="234.00" text-anchor="middle" font-size="11.90" fill="#262626" stroke="#262626" stroke-width="0.2">250</text>
<text x="644.92" y="234.00" text-anchor="middle" font-size="11.90" fill="#262626" stroke="#262626" stroke-width="0.2">300</text>
<text x="681.21" y="234.00" text-anchor="middle" font-size="11.90" fill="#262626" stroke="#262626" stroke-width="0.2">350</text>
<text x="717.50" y="234.00" text-anchor="middle" font-size="11.90" fill="#262626" stroke="#262626" stroke-width="0.2">400</text>
<text x="572.5" y="21.3" text-anchor="middle" font-size="12.50" font-weight="bold" fill="#000">Envelope Analysis</text>
<text x="571.4" y="251.0" text-anchor="middle" font-size="12.85" fill="#262626" stroke="#262626" stroke-width="0.2">Frequency [Hz]</text>
<text transform="translate(410.6,123.2) rotate(-90)" x="0" y="0" text-anchor="middle" font-size="12.80" fill="#262626" stroke="#262626" stroke-width="0.2">Amplitude</text>
<text x="552.7" y="280.8" text-anchor="middle" font-size="18.00" fill="#000">(<tspan font-weight="bold">b</tspan>)</text>
<text x="460.1" y="91.8" font-size="10.10" font-weight="bold" font-style="italic" fill="#000">1 x BSF</text>
<text x="499.3" y="101.4" font-size="10.10" font-weight="bold" font-style="italic" fill="#000">2 x BSF</text>
<text x="531.4" y="128.7" font-size="10.10" font-weight="bold" font-style="italic" fill="#000">3 x BSF</text>
<text x="563.4" y="152.3" font-size="10.10" font-weight="bold" font-style="italic" fill="#000">4 x BSF</text>
<text x="596.4" y="161.1" font-size="10.10" font-weight="bold" font-style="italic" fill="#000">5 x BSF</text>
<text x="626.1" y="176.2" font-size="10.10" font-weight="bold" font-style="italic" fill="#000">6 x BSF</text>
<text x="427.70" y="25.45" font-size="14.20" fill="#262626" stroke="#262626" stroke-width="0.2">×</text>
<text x="437.70" y="23.75" font-size="11.00" fill="#262626" stroke="#262626" stroke-width="0.2">10</text>
<text x="448.10" y="18.05" font-size="8.80" fill="#262626" stroke="#262626" stroke-width="0.2">-3</text>
<text x="63.10" y="516.16" text-anchor="end" font-size="11.13" fill="#262626" stroke="#262626" stroke-width="0.2">0</text>
<text x="63.10" y="476.96" text-anchor="end" font-size="11.13" fill="#262626" stroke="#262626" stroke-width="0.2">1</text>
<text x="63.10" y="437.76" text-anchor="end" font-size="11.13" fill="#262626" stroke="#262626" stroke-width="0.2">2</text>
<text x="63.10" y="398.56" text-anchor="end" font-size="11.13" fill="#262626" stroke="#262626" stroke-width="0.2">3</text>
<text x="63.10" y="359.36" text-anchor="end" font-size="11.13" fill="#262626" stroke="#262626" stroke-width="0.2">4</text>
<text x="67.10" y="525.68" text-anchor="middle" font-size="11.13" fill="#262626" stroke="#262626" stroke-width="0.2">0</text>
<text x="100.90" y="525.68" text-anchor="middle" font-size="11.13" fill="#262626" stroke="#262626" stroke-width="0.2">50</text>
<text x="134.70" y="525.68" text-anchor="middle" font-size="11.13" fill="#262626" stroke="#262626" stroke-width="0.2">100</text>
<text x="168.50" y="525.68" text-anchor="middle" font-size="11.13" fill="#262626" stroke="#262626" stroke-width="0.2">150</text>
<text x="202.30" y="525.68" text-anchor="middle" font-size="11.13" fill="#262626" stroke="#262626" stroke-width="0.2">200</text>
<text x="236.10" y="525.68" text-anchor="middle" font-size="11.13" fill="#262626" stroke="#262626" stroke-width="0.2">250</text>
<text x="269.90" y="525.68" text-anchor="middle" font-size="11.13" fill="#262626" stroke="#262626" stroke-width="0.2">300</text>
<text x="303.70" y="525.68" text-anchor="middle" font-size="11.13" fill="#262626" stroke="#262626" stroke-width="0.2">350</text>
<text x="337.50" y="525.68" text-anchor="middle" font-size="11.13" fill="#262626" stroke="#262626" stroke-width="0.2">400</text>
<text x="202.3" y="325.8" text-anchor="middle" font-size="11.69" font-weight="bold" fill="#000">Envelope Analysis</text>
<text x="201.55" y="540.6" text-anchor="middle" font-size="12.01" fill="#262626" stroke="#262626" stroke-width="0.2">Frequency [Hz]</text>
<text transform="translate(52.3,421.2) rotate(-90)" x="0" y="0" text-anchor="middle" font-size="11.97" fill="#262626" stroke="#262626" stroke-width="0.2">Amplitude</text>
<text x="185.6" y="578.2" text-anchor="middle" font-size="16.83" fill="#000">(<tspan font-weight="bold">c</tspan>)</text>
<text x="93.8" y="431.8" font-size="9.44" font-weight="bold" font-style="italic" fill="#000">1 x BSF</text>
<text x="131.3" y="436.2" font-size="9.44" font-weight="bold" font-style="italic" fill="#000">2 x BSF</text>
<text x="160.1" y="455.7" font-size="9.44" font-weight="bold" font-style="italic" fill="#000">3 x BSF</text>
<text x="67.57" y="329.85" font-size="13.28" fill="#262626" stroke="#262626" stroke-width="0.2">×</text>
<text x="76.92" y="328.26" font-size="10.29" fill="#262626" stroke="#262626" stroke-width="0.2">10</text>
<text x="86.64" y="322.93" font-size="8.23" fill="#262626" stroke="#262626" stroke-width="0.2">-3</text>
<text x="422.50" y="521.27" text-anchor="end" font-size="11.90" fill="#262626" stroke="#262626" stroke-width="0.2">0</text>
<text x="422.50" y="490.74" text-anchor="end" font-size="11.90" fill="#262626" stroke="#262626" stroke-width="0.2">1</text>
<text x="422.50" y="460.21" text-anchor="end" font-size="11.90" fill="#262626" stroke="#262626" stroke-width="0.2">2</text>
<text x="422.50" y="429.68" text-anchor="end" font-size="11.90" fill="#262626" stroke="#262626" stroke-width="0.2">3</text>
<text x="422.50" y="399.15" text-anchor="end" font-size="11.90" fill="#262626" stroke="#262626" stroke-width="0.2">4</text>
<text x="422.50" y="368.62" text-anchor="end" font-size="11.90" fill="#262626" stroke="#262626" stroke-width="0.2">5</text>
<text x="422.50" y="338.09" text-anchor="end" font-size="11.90" fill="#262626" stroke="#262626" stroke-width="0.2">6</text>
<text x="426.50" y="531.45" text-anchor="middle" font-size="11.90" fill="#262626" stroke="#262626" stroke-width="0.2">0</text>
<text x="462.75" y="531.45" text-anchor="middle" font-size="11.90" fill="#262626" stroke="#262626" stroke-width="0.2">50</text>
<text x="499.00" y="531.45" text-anchor="middle" font-size="11.90" fill="#262626" stroke="#262626" stroke-width="0.2">100</text>
<text x="535.25" y="531.45" text-anchor="middle" font-size="11.90" fill="#262626" stroke="#262626" stroke-width="0.2">150</text>
<text x="571.50" y="531.45" text-anchor="middle" font-size="11.90" fill="#262626" stroke="#262626" stroke-width="0.2">200</text>
<text x="607.75" y="531.45" text-anchor="middle" font-size="11.90" fill="#262626" stroke="#262626" stroke-width="0.2">250</text>
<text x="644.00" y="531.45" text-anchor="middle" font-size="11.90" fill="#262626" stroke="#262626" stroke-width="0.2">300</text>
<text x="680.25" y="531.45" text-anchor="middle" font-size="11.90" fill="#262626" stroke="#262626" stroke-width="0.2">350</text>
<text x="716.50" y="531.45" text-anchor="middle" font-size="11.90" fill="#262626" stroke="#262626" stroke-width="0.2">400</text>
<text x="571.3" y="319.6" text-anchor="middle" font-size="12.50" font-weight="bold" fill="#000">Envelope Analysis</text>
<text x="570.7" y="547.8" text-anchor="middle" font-size="12.85" fill="#262626" stroke="#262626" stroke-width="0.2">Frequency [Hz]</text>
<text transform="translate(410.3,421.0) rotate(-90)" x="0" y="0" text-anchor="middle" font-size="12.80" fill="#262626" stroke="#262626" stroke-width="0.2">Amplitude</text>
<text x="553.0" y="577.6" text-anchor="middle" font-size="18.00" fill="#000">(<tspan font-weight="bold">d</tspan>)</text>
<text x="457.1" y="456.2" font-size="10.10" font-weight="bold" font-style="italic" fill="#000">1 x BSF</text>
<text x="501.4" y="458.4" font-size="10.10" font-weight="bold" font-style="italic" fill="#000">2 x BSF</text>
<text x="519.2" y="480.2" font-size="10.10" font-weight="bold" font-style="italic" fill="#000">3 x BSF</text>
<text x="427.00" y="323.60" font-size="14.20" fill="#262626" stroke="#262626" stroke-width="0.2">×</text>
<text x="437.00" y="321.90" font-size="11.00" fill="#262626" stroke="#262626" stroke-width="0.2">10</text>
<text x="447.40" y="316.20" font-size="8.80" fill="#262626" stroke="#262626" stroke-width="0.2">-3</text>
</svg></body></html>
